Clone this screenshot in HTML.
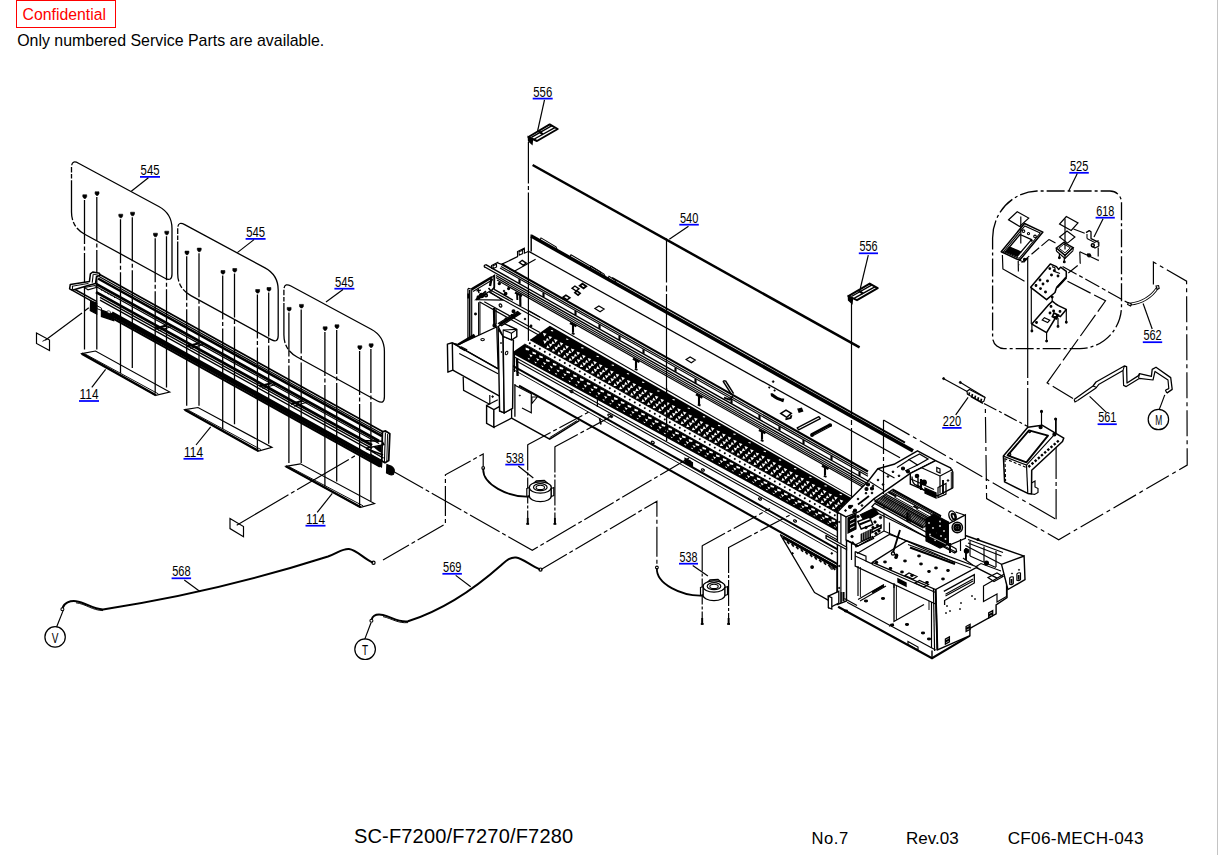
<!DOCTYPE html>
<html><head><meta charset="utf-8"><title>SC-F7200/F7270/F7280 CF06-MECH-043</title>
<style>
html,body{margin:0;padding:0;background:#fff;}
body{width:1218px;height:855px;position:relative;overflow:hidden;font-family:"Liberation Sans",sans-serif;}
.t{position:absolute;white-space:nowrap;color:#000;line-height:1;}
#conf{left:16px;top:0.4px;width:92px;height:25.6px;border:1.3px solid #f00;color:#f00;font-size:15.8px;line-height:28px;text-align:left;padding-left:5.6px;box-sizing:content-box;}
#edge{position:absolute;right:0;top:0;width:1px;height:855px;background:#c4c4c4;}
svg{position:absolute;left:0;top:0;}
svg text{font-family:"Liberation Sans",sans-serif;}
</style></head><body>
<div class="t" id="conf">Confidential</div>
<div class="t" style="left:17.2px;top:32.6px;font-size:15.93px;">Only numbered Service Parts are available.</div>
<div class="t" style="left:353.9px;top:826px;font-size:20px;letter-spacing:0.19px;">SC-F7200/F7270/F7280</div>
<div class="t" style="left:811.4px;top:831px;font-size:16.6px;letter-spacing:0.6px;">No.7</div>
<div class="t" style="left:906px;top:830px;font-size:17px;">Rev.03</div>
<div class="t" style="left:1007.7px;top:830px;font-size:17.2px;letter-spacing:0.25px;">CF06-MECH-043</div>
<div id="edge"></div>
<svg width="1218" height="855" viewBox="0 0 1218 855" fill="none" stroke="#000" stroke-width="1">
<path d="M78.5,163.2 Q71.5,159.4 71.5,167.4 L71.5,212.0 Q71.5,227.0 84.7,234.2 L165.0,278.2 Q172.0,282.0 172.0,274.0 L172.0,228.6 Q172.0,213.6 158.8,206.5 Z" stroke-width="1.3" fill="none" stroke-dasharray="9 1.6 5.5 1.6 4.5 1.6 40 2 5 2 1000"/>
<path d="M184.7,224.6 Q177.7,220.8 177.7,228.8 L177.7,273.4 Q177.7,288.4 190.9,295.6 L271.2,339.6 Q278.2,343.4 278.2,335.4 L278.2,290.0 Q278.2,275.0 265.0,267.9 Z" stroke-width="1.3" fill="none" stroke-dasharray="9 1.6 5.5 1.6 4.5 1.6 40 2 5 2 1000"/>
<path d="M290.9,286.0 Q283.9,282.2 283.9,290.2 L283.9,334.8 Q283.9,349.8 297.1,357.0 L377.4,401.0 Q384.4,404.8 384.4,396.8 L384.4,351.4 Q384.4,336.4 371.2,329.3 Z" stroke-width="1.3" fill="none" stroke-dasharray="9 1.6 5.5 1.6 4.5 1.6 40 2 5 2 1000"/>
<path d="M82.8,194.8 h3.9 v1.9 l-1.1,1.7 h-1.6 l-1.2,-1.7 Z" stroke-width="0.59" fill="#000"/>
<line x1="84.5" y1="199.9" x2="84.5" y2="349.5" stroke-width="1.27" stroke-dasharray="44 2.5 4 2.5 300"/>
<path d="M95.1,191.8 h3.9 v1.9 l-1.1,1.7 h-1.6 l-1.2,-1.7 Z" stroke-width="0.59" fill="#000"/>
<line x1="96.8" y1="196.9" x2="96.8" y2="349.5" stroke-width="1.27" stroke-dasharray="44 2.5 4 2.5 300"/>
<path d="M118.8,214.2 h3.9 v1.9 l-1.1,1.7 h-1.6 l-1.2,-1.7 Z" stroke-width="0.59" fill="#000"/>
<line x1="120.5" y1="219.3" x2="120.5" y2="373.0" stroke-width="1.27" stroke-dasharray="44 2.5 4 2.5 300"/>
<path d="M130.6,212.2 h3.9 v1.9 l-1.1,1.7 h-1.6 l-1.2,-1.7 Z" stroke-width="0.59" fill="#000"/>
<line x1="132.3" y1="217.3" x2="132.3" y2="368.0" stroke-width="1.27" stroke-dasharray="44 2.5 4 2.5 300"/>
<path d="M153.5,233.2 h3.9 v1.9 l-1.1,1.7 h-1.6 l-1.2,-1.7 Z" stroke-width="0.59" fill="#000"/>
<line x1="155.2" y1="238.3" x2="155.2" y2="393.5" stroke-width="1.27" stroke-dasharray="44 2.5 4 2.5 300"/>
<path d="M164.8,231.2 h3.9 v1.9 l-1.1,1.7 h-1.6 l-1.2,-1.7 Z" stroke-width="0.59" fill="#000"/>
<line x1="166.5" y1="236.3" x2="166.5" y2="387.5" stroke-width="1.27" stroke-dasharray="44 2.5 4 2.5 300"/>
<path d="M185.0,251.1 h3.9 v1.9 l-1.1,1.7 h-1.6 l-1.2,-1.7 Z" stroke-width="0.59" fill="#000"/>
<line x1="186.7" y1="256.2" x2="186.7" y2="405.8" stroke-width="1.27" stroke-dasharray="44 2.5 4 2.5 300"/>
<path d="M197.3,248.1 h3.9 v1.9 l-1.1,1.7 h-1.6 l-1.2,-1.7 Z" stroke-width="0.59" fill="#000"/>
<line x1="199.0" y1="253.2" x2="199.0" y2="405.8" stroke-width="1.27" stroke-dasharray="44 2.5 4 2.5 300"/>
<path d="M221.0,270.5 h3.9 v1.9 l-1.1,1.7 h-1.6 l-1.2,-1.7 Z" stroke-width="0.59" fill="#000"/>
<line x1="222.7" y1="275.6" x2="222.7" y2="429.3" stroke-width="1.27" stroke-dasharray="44 2.5 4 2.5 300"/>
<path d="M232.8,268.5 h3.9 v1.9 l-1.1,1.7 h-1.6 l-1.2,-1.7 Z" stroke-width="0.59" fill="#000"/>
<line x1="234.5" y1="273.6" x2="234.5" y2="424.3" stroke-width="1.27" stroke-dasharray="44 2.5 4 2.5 300"/>
<path d="M255.7,289.5 h3.9 v1.9 l-1.1,1.7 h-1.6 l-1.2,-1.7 Z" stroke-width="0.59" fill="#000"/>
<line x1="257.4" y1="294.6" x2="257.4" y2="449.8" stroke-width="1.27" stroke-dasharray="44 2.5 4 2.5 300"/>
<path d="M267.0,287.5 h3.9 v1.9 l-1.1,1.7 h-1.6 l-1.2,-1.7 Z" stroke-width="0.59" fill="#000"/>
<line x1="268.7" y1="292.6" x2="268.7" y2="443.8" stroke-width="1.27" stroke-dasharray="44 2.5 4 2.5 300"/>
<path d="M287.2,307.4 h3.9 v1.9 l-1.1,1.7 h-1.6 l-1.2,-1.7 Z" stroke-width="0.59" fill="#000"/>
<line x1="288.9" y1="312.5" x2="288.9" y2="463.1" stroke-width="1.27" stroke-dasharray="44 2.5 4 2.5 300"/>
<path d="M299.5,304.4 h3.9 v1.9 l-1.1,1.7 h-1.6 l-1.2,-1.7 Z" stroke-width="0.59" fill="#000"/>
<line x1="301.2" y1="309.5" x2="301.2" y2="463.1" stroke-width="1.27" stroke-dasharray="44 2.5 4 2.5 300"/>
<path d="M323.2,326.8 h3.9 v1.9 l-1.1,1.7 h-1.6 l-1.2,-1.7 Z" stroke-width="0.59" fill="#000"/>
<line x1="324.9" y1="331.9" x2="324.9" y2="486.6" stroke-width="1.27" stroke-dasharray="44 2.5 4 2.5 300"/>
<path d="M335.0,324.8 h3.9 v1.9 l-1.1,1.7 h-1.6 l-1.2,-1.7 Z" stroke-width="0.59" fill="#000"/>
<line x1="336.7" y1="329.9" x2="336.7" y2="481.6" stroke-width="1.27" stroke-dasharray="44 2.5 4 2.5 300"/>
<path d="M357.9,345.8 h3.9 v1.9 l-1.1,1.7 h-1.6 l-1.2,-1.7 Z" stroke-width="0.59" fill="#000"/>
<line x1="359.6" y1="350.9" x2="359.6" y2="507.1" stroke-width="1.27" stroke-dasharray="44 2.5 4 2.5 300"/>
<path d="M369.2,343.8 h3.9 v1.9 l-1.1,1.7 h-1.6 l-1.2,-1.7 Z" stroke-width="0.59" fill="#000"/>
<line x1="370.9" y1="348.9" x2="370.9" y2="501.1" stroke-width="1.27" stroke-dasharray="44 2.5 4 2.5 300"/>
<polygon points="81.7,353.6 95.5,351.0 169.7,392.0 155.9,395.3" stroke-width="1.18" fill="none"/>
<line x1="81.7" y1="353.6" x2="155.9" y2="395.3" stroke-width="2.38"/>
<line x1="84.7" y1="353.8" x2="158.4" y2="393.9" stroke-width="0.94"/>
<polygon points="184.8,409.7 198.0,407.5 272.0,447.4 258.5,451.0" stroke-width="1.18" fill="none"/>
<line x1="184.8" y1="409.7" x2="258.5" y2="451.0" stroke-width="2.38"/>
<line x1="187.8" y1="409.9" x2="261.0" y2="449.6" stroke-width="0.94"/>
<polygon points="285.8,466.3 300.4,463.8 374.5,503.5 360.7,507.3" stroke-width="1.18" fill="none"/>
<line x1="285.8" y1="466.3" x2="360.7" y2="507.3" stroke-width="2.38"/>
<line x1="288.8" y1="466.5" x2="363.2" y2="505.9" stroke-width="0.94"/>
<line x1="97.0" y1="273.1" x2="383.0" y2="431.8" stroke-width="1.72"/>
<line x1="99.0" y1="276.6" x2="383.0" y2="434.2" stroke-width="1.19"/>
<line x1="98.0" y1="278.5" x2="382.0" y2="436.1" stroke-width="2.54"/>
<line x1="96.0" y1="283.9" x2="379.0" y2="441.0" stroke-width="2.79"/>
<line x1="96.0" y1="286.4" x2="379.0" y2="443.5" stroke-width="1.19"/>
<line x1="96.0" y1="292.1" x2="372.0" y2="445.3" stroke-width="2.79"/>
<line x1="100.0" y1="297.3" x2="372.0" y2="448.3" stroke-width="1.32"/>
<line x1="100.0" y1="300.2" x2="376.0" y2="453.4" stroke-width="1.32"/>
<line x1="70.5" y1="287.0" x2="97.0" y2="301.7" stroke-width="1.45"/>
<line x1="72.0" y1="290.2" x2="97.0" y2="304.1" stroke-width="1.45"/>
<line x1="112.0" y1="312.6" x2="381.0" y2="461.9" stroke-width="2.79"/>
<line x1="112.0" y1="315.3" x2="381.0" y2="464.6" stroke-width="3.26"/>
<line x1="110.0" y1="316.9" x2="380.0" y2="466.7" stroke-width="2.11"/>
<polygon points="90.6,301.2 96.7,303.0 96.7,314.0 90.3,310.6" stroke-width="1.18" fill="#000"/>
<polygon points="101.5,310.2 113.6,314.6 113.6,320.6 101.5,316.4" stroke-width="1.42" fill="#000"/>
<polygon points="96.7,305.5 101.5,308.2 101.5,310.4 96.7,308.5" stroke-width="0.94" fill="none"/>
<ellipse cx="108.9" cy="312.0" rx="1.9" ry="1.1" stroke-width="0.59" fill="#fff" transform="rotate(22 108.9 312.0)"/>
<line x1="101.0" y1="289.6" x2="102.2" y2="290.9" stroke-width="0.94"/>
<line x1="104.2" y1="291.4" x2="105.4" y2="292.7" stroke-width="0.94"/>
<line x1="107.4" y1="293.2" x2="108.6" y2="294.5" stroke-width="0.94"/>
<line x1="110.6" y1="294.9" x2="111.8" y2="296.2" stroke-width="0.94"/>
<line x1="113.8" y1="296.7" x2="115.0" y2="298.0" stroke-width="0.94"/>
<line x1="155.3" y1="328.6" x2="167.0" y2="325.4" stroke-width="2.16"/>
<line x1="158.3" y1="330.8" x2="171.0" y2="326.8" stroke-width="1.06"/>
<line x1="187.3" y1="346.4" x2="199.0" y2="343.2" stroke-width="2.16"/>
<line x1="190.3" y1="348.6" x2="203.0" y2="344.6" stroke-width="1.06"/>
<line x1="259.5" y1="386.4" x2="271.2" y2="383.2" stroke-width="2.16"/>
<line x1="262.5" y1="388.6" x2="275.2" y2="384.6" stroke-width="1.06"/>
<line x1="291.0" y1="404.0" x2="302.7" y2="400.8" stroke-width="2.16"/>
<line x1="294.0" y1="406.2" x2="306.7" y2="402.2" stroke-width="1.06"/>
<polygon points="70.3,284.4 89.4,281.6 90.4,273.8 92.8,272.0 99.4,273.2 99.8,275.4 96.5,276.5 95.5,283.5 88.0,285.6 72.3,290.2 69.6,288.8" stroke-width="1.53" fill="#fff" stroke-linejoin="round"/>
<line x1="72.4" y1="285.8" x2="72.6" y2="289.8" stroke-width="1.06"/>
<line x1="72.5" y1="286.2" x2="88.5" y2="283.4" stroke-width="0.94"/>
<line x1="93.2" y1="274.2" x2="92.2" y2="282.8" stroke-width="1.06"/>
<line x1="93.2" y1="274.2" x2="98.5" y2="275.2" stroke-width="0.94"/>
<polygon points="84.5,287.6 95.0,285.5 97.0,287.2 88.0,289.8" stroke-width="1.06" fill="none"/>
<polygon points="382.4,431.8 385.5,430.9 389.8,433.8 388.7,460.6 385.0,462.8 381.8,461.0" stroke-width="1.77" fill="#fff" stroke-linejoin="round"/>
<line x1="385.4" y1="432.5" x2="384.4" y2="462.0" stroke-width="1.06"/>
<line x1="387.6" y1="434.0" x2="386.8" y2="461.0" stroke-width="0.94"/>
<polyline points="361.0,440.5 382.0,441.2 384.0,444.6 366.0,448.2" stroke-width="1.42" fill="none" stroke-linejoin="round"/>
<line x1="366.0" y1="448.5" x2="383.0" y2="455.0" stroke-width="1.77"/>
<line x1="371.0" y1="451.0" x2="383.5" y2="458.2" stroke-width="1.42"/>
<polygon points="375.0,447.5 381.0,446.0 381.0,452.0 378.5,450.5" stroke-width="1.18" fill="#000"/>
<polygon points="371.0,454.5 382.0,460.5 381.5,467.0 371.0,461.0" stroke-width="1.18" fill="#000"/>
<path d="M386.9,464.6 l4.6,1.6 q3,2 2.8,5 l-0.8,3 q-2,1.4 -4.4,0 l-2.6,-1.4 Z" stroke-width="1.18" fill="#000"/>
<polygon points="36.5,333.0 49.5,340.0 49.5,350.6 36.5,343.5" stroke-width="1.18" fill="none"/>
<line x1="45.3" y1="340.2" x2="82.0" y2="313.0" stroke-width="1.18"/>
<line x1="84.5" y1="311.0" x2="88.8" y2="307.8" stroke-width="1.18"/>
<line x1="42.5" y1="341.3" x2="45.8" y2="339.6" stroke-width="0.94"/>
<polygon points="230.0,518.6 243.5,526.6 243.5,536.7 230.0,528.6" stroke-width="1.18" fill="none"/>
<line x1="236.7" y1="525.2" x2="356.0" y2="455.2" stroke-width="1.18" stroke-dasharray="60 3 4 3"/>
<text x="140.6" y="175.0" font-size="14.8" textLength="18.9" lengthAdjust="spacingAndGlyphs" stroke="none" fill="#000">545</text>
<line x1="140.0" y1="176.9" x2="160.0" y2="176.9" stroke="#0000ff" stroke-width="1.75"/>
<line x1="148.4" y1="177.8" x2="131.3" y2="191.2" stroke-width="1.18"/>
<text x="246.2" y="237.0" font-size="14.8" textLength="18.9" lengthAdjust="spacingAndGlyphs" stroke="none" fill="#000">545</text>
<line x1="245.6" y1="238.9" x2="265.6" y2="238.9" stroke="#0000ff" stroke-width="1.75"/>
<line x1="254.0" y1="239.6" x2="237.3" y2="252.6" stroke-width="1.18"/>
<text x="335.0" y="286.8" font-size="14.8" textLength="18.9" lengthAdjust="spacingAndGlyphs" stroke="none" fill="#000">545</text>
<line x1="334.4" y1="288.7" x2="354.4" y2="288.7" stroke="#0000ff" stroke-width="1.75"/>
<line x1="343.0" y1="289.6" x2="326.0" y2="302.0" stroke-width="1.18"/>
<text x="79.6" y="399.1" font-size="14.8" textLength="18.9" lengthAdjust="spacingAndGlyphs" stroke="none" fill="#000">114</text>
<line x1="79.0" y1="401.0" x2="99.0" y2="401.0" stroke="#0000ff" stroke-width="1.75"/>
<line x1="91.8" y1="387.4" x2="105.6" y2="369.4" stroke-width="1.18"/>
<text x="184.1" y="456.9" font-size="14.8" textLength="18.9" lengthAdjust="spacingAndGlyphs" stroke="none" fill="#000">114</text>
<line x1="183.5" y1="458.8" x2="203.5" y2="458.8" stroke="#0000ff" stroke-width="1.75"/>
<line x1="196.0" y1="445.0" x2="210.7" y2="426.8" stroke-width="1.18"/>
<text x="306.1" y="523.8" font-size="14.8" textLength="18.9" lengthAdjust="spacingAndGlyphs" stroke="none" fill="#000">114</text>
<line x1="305.5" y1="525.7" x2="325.5" y2="525.7" stroke="#0000ff" stroke-width="1.75"/>
<line x1="317.2" y1="512.4" x2="332.3" y2="493.4" stroke-width="1.18"/>
<polyline points="393.5,471.5 532.3,550.3 689.0,458.0" stroke-width="1.18" fill="none" stroke-dasharray="34 3 4 3"/>
<polyline points="383.0,560.0 445.4,523.9 445.4,474.8 483.2,454.0 483.2,466.0" stroke-width="1.18" fill="none" stroke-dasharray="30 3 4 3"/>
<polyline points="541.0,569.5 656.9,501.2 656.9,566.0" stroke-width="1.18" fill="none" stroke-dasharray="30 3 4 3"/>
<path d="M62.6,608 C64,603 70,600.5 76,601.2 C86,602.5 92,609 103,609.4 Q215,592.5 328,556.5 C338,553 342,548.5 349,549 C357,550 364,559 373,562.6" stroke-width="2.01" fill="none"/>
<path d="M76,602.8 C86,604 92,610.3 103,610.6" stroke-width="0.94" fill="none"/>
<circle cx="62.4" cy="609.3" r="1.5" stroke-width="1.06" fill="none"/>
<circle cx="373.5" cy="562.8" r="1.6" stroke-width="1.18" fill="none"/>
<line x1="63.2" y1="610.4" x2="56.6" y2="627.0" stroke-width="1.18"/>
<circle cx="55.1" cy="636.9" r="10.2" stroke-width="1.24" fill="none"/>
<text x="51.8" y="643.3" font-size="14.8" textLength="6.7" lengthAdjust="spacingAndGlyphs" stroke="none" fill="#000">V</text>
<text x="172.2" y="576.4" font-size="14.8" textLength="18.4" lengthAdjust="spacingAndGlyphs" stroke="none" fill="#000">568</text>
<line x1="171.6" y1="578.3" x2="191.1" y2="578.3" stroke="#0000ff" stroke-width="1.75"/>
<line x1="184.3" y1="580.0" x2="200.3" y2="591.7" stroke-width="1.18"/>
<path d="M371.6,619.5 C373,615 378,614 383,615 C392,617 398,622.5 408,621.3 Q455,606 500.8,565.4 C506,561 510,557 516,557.6 C523,558.5 531,566 540,569.4" stroke-width="2.01" fill="none"/>
<path d="M383,616.6 C392,618.6 398,623.6 408,622.6" stroke-width="0.94" fill="none"/>
<circle cx="371.4" cy="620.7" r="1.5" stroke-width="1.06" fill="none"/>
<circle cx="540.5" cy="569.6" r="1.6" stroke-width="1.18" fill="none"/>
<line x1="371.0" y1="622.8" x2="364.7" y2="639.4" stroke-width="1.18"/>
<circle cx="365.1" cy="649.2" r="10.3" stroke-width="1.24" fill="none"/>
<text x="362" y="655.1" font-size="14.8" textLength="6.1" lengthAdjust="spacingAndGlyphs" stroke="none" fill="#000">T</text>
<text x="443.0" y="571.9" font-size="14.8" textLength="18.4" lengthAdjust="spacingAndGlyphs" stroke="none" fill="#000">569</text>
<line x1="442.4" y1="573.8" x2="461.9" y2="573.8" stroke="#0000ff" stroke-width="1.75"/>
<line x1="455.7" y1="575.4" x2="470.7" y2="586.7" stroke-width="1.18"/>
<line x1="527.7" y1="444.8" x2="589.8" y2="411.5" stroke-width="1.18" stroke-dasharray="26 3 4 3"/>
<line x1="554.9" y1="446.8" x2="612.0" y2="416.0" stroke-width="1.18" stroke-dasharray="26 3 4 3"/>
<line x1="702.2" y1="545.8" x2="770.0" y2="508.5" stroke-width="1.18" stroke-dasharray="26 3 4 3"/>
<line x1="728.6" y1="547.4" x2="790.0" y2="515.0" stroke-width="1.18" stroke-dasharray="26 3 4 3"/>
<line x1="527.7" y1="444.5" x2="527.7" y2="523.9" stroke-width="1.18" stroke-dasharray="26 2 3 2"/>
<line x1="554.9" y1="446.5" x2="554.9" y2="523.9" stroke-width="1.18" stroke-dasharray="26 2 3 2"/>
<line x1="527.7" y1="517.9" x2="527.7" y2="523.9" stroke-width="1.89"/>
<line x1="526.3" y1="523.9" x2="529.1" y2="523.9" stroke-width="1.89"/>
<line x1="554.9" y1="517.9" x2="554.9" y2="523.9" stroke-width="1.89"/>
<line x1="553.5" y1="523.9" x2="556.3" y2="523.9" stroke-width="1.89"/>
<path d="M483.2,468.5 C482.2,484.5 508.29999999999995,497.5 529.3,496.5" stroke-width="1.77" fill="none"/>
<circle cx="483.2" cy="468.0" r="1.4" stroke-width="1.06" fill="none"/>
<path d="M529.3,487.5 v8.5 a11,5.6 0 0 0 22,0 v-8.5" stroke-width="1.3" fill="#fff"/>
<path d="M529.3,487.5 L536.3,481.0 L544.3,480.5 L551.3,486.5 " stroke-width="1.3" fill="#fff"/>
<ellipse cx="540.3" cy="487.5" rx="11" ry="5.6" stroke-width="1.3" fill="#fff"/>
<ellipse cx="540.3" cy="487.2" rx="6.8" ry="3.5" stroke-width="1.18" fill="#fff"/>
<ellipse cx="540.3" cy="487.4" rx="4.2" ry="2.1" stroke-width="1.06" fill="#fff"/>
<polygon points="526.8,488.5 529.3,487.5 529.3,495.5 526.8,496.5" stroke-width="1.18" fill="#fff"/>
<polygon points="551.3,488.5 553.8,487.5 553.8,495.5 551.3,496.5" stroke-width="1.18" fill="#fff"/>
<text x="505.9" y="462.7" font-size="14.8" textLength="17.9" lengthAdjust="spacingAndGlyphs" stroke="none" fill="#000">538</text>
<line x1="505.3" y1="464.6" x2="524.3" y2="464.6" stroke="#0000ff" stroke-width="1.75"/>
<line x1="518.3" y1="466.0" x2="533.3" y2="478.0" stroke-width="1.18"/>
<line x1="702.2" y1="545.5" x2="702.2" y2="624.0" stroke-width="1.18" stroke-dasharray="26 2 3 2"/>
<line x1="728.6" y1="547.0" x2="728.6" y2="624.0" stroke-width="1.18" stroke-dasharray="26 2 3 2"/>
<line x1="702.2" y1="618.0" x2="702.2" y2="624.0" stroke-width="1.89"/>
<line x1="700.8" y1="624.0" x2="703.6" y2="624.0" stroke-width="1.89"/>
<line x1="728.6" y1="618.0" x2="728.6" y2="624.0" stroke-width="1.89"/>
<line x1="727.2" y1="624.0" x2="730.0" y2="624.0" stroke-width="1.89"/>
<path d="M656.9,568 C655.9,584 682,596.5 703,595.5" stroke-width="1.77" fill="none"/>
<circle cx="656.9" cy="567.5" r="1.4" stroke-width="1.06" fill="none"/>
<path d="M703,586.5 v8.5 a11,5.6 0 0 0 22,0 v-8.5" stroke-width="1.3" fill="#fff"/>
<path d="M703,586.5 L710,580.0 L718,579.5 L725,585.5 " stroke-width="1.3" fill="#fff"/>
<ellipse cx="714.0" cy="586.5" rx="11" ry="5.6" stroke-width="1.3" fill="#fff"/>
<ellipse cx="714.0" cy="586.2" rx="6.8" ry="3.5" stroke-width="1.18" fill="#fff"/>
<ellipse cx="714.0" cy="586.4" rx="4.2" ry="2.1" stroke-width="1.06" fill="#fff"/>
<polygon points="700.5,587.5 703.0,586.5 703.0,594.5 700.5,595.5" stroke-width="1.18" fill="#fff"/>
<polygon points="725.0,587.5 727.5,586.5 727.5,594.5 725.0,595.5" stroke-width="1.18" fill="#fff"/>
<text x="679.6" y="561.8" font-size="14.8" textLength="17.9" lengthAdjust="spacingAndGlyphs" stroke="none" fill="#000">538</text>
<line x1="679.0" y1="563.7" x2="698.0" y2="563.7" stroke="#0000ff" stroke-width="1.75"/>
<line x1="692.7" y1="565.4" x2="707.9" y2="576.0" stroke-width="1.18"/>
<line x1="532.6" y1="165.0" x2="859.6" y2="347.4" stroke-width="2.48"/>
<text x="679.9" y="222.8" font-size="14.8" textLength="18.4" lengthAdjust="spacingAndGlyphs" stroke="none" fill="#000">540</text>
<line x1="679.3" y1="224.7" x2="698.8" y2="224.7" stroke="#0000ff" stroke-width="1.75"/>
<line x1="688.5" y1="226.2" x2="669.3" y2="239.3" stroke-width="1.18"/>
<line x1="666.5" y1="238.5" x2="666.5" y2="388.5" stroke-width="1.18" stroke-dasharray="44 3 6 2.5 300"/>
<text x="533.3" y="96.7" font-size="14.8" textLength="18.9" lengthAdjust="spacingAndGlyphs" stroke="none" fill="#000">556</text>
<line x1="532.7" y1="98.6" x2="552.7" y2="98.6" stroke="#0000ff" stroke-width="1.75"/>
<line x1="544.5" y1="99.9" x2="537.6" y2="131.0" stroke-width="1.18"/>
<polygon points="528.4,137.0 549.7,124.4 557.7,129.0 537.0,141.0" stroke-width="2.01" fill="#fff" stroke-linejoin="round"/>
<line x1="531.4" y1="137.3" x2="552.0" y2="125.6" stroke-width="1.42"/>
<line x1="534.4" y1="139.0" x2="554.8" y2="127.6" stroke-width="1.42"/>
<line x1="538.9" y1="131.4" x2="542.9" y2="134.4" stroke-width="2.38"/>
<polygon points="528.4,137.0 528.6,141.0 532.0,144.0 532.4,140.0" stroke-width="1.42" fill="#000"/>
<line x1="528.4" y1="142.0" x2="528.4" y2="341.0" stroke-width="1.18" stroke-dasharray="41.5 2.5 4 2.5 300"/>
<text x="859.4" y="251.4" font-size="14.8" textLength="18.1" lengthAdjust="spacingAndGlyphs" stroke="none" fill="#000">556</text>
<line x1="858.8" y1="253.3" x2="878.0" y2="253.3" stroke="#0000ff" stroke-width="1.75"/>
<line x1="868.3" y1="255.2" x2="860.4" y2="288.0" stroke-width="1.18"/>
<polygon points="848.4,296.2 869.7,283.6 877.7,288.2 857.0,300.2" stroke-width="2.01" fill="#fff" stroke-linejoin="round"/>
<line x1="851.4" y1="296.5" x2="872.0" y2="284.8" stroke-width="1.42"/>
<line x1="854.4" y1="298.2" x2="874.8" y2="286.8" stroke-width="1.42"/>
<line x1="858.9" y1="290.6" x2="862.9" y2="293.6" stroke-width="2.38"/>
<polygon points="848.4,296.2 848.6,300.2 852.0,303.2 852.4,299.2" stroke-width="1.42" fill="#000"/>
<line x1="851.5" y1="302.0" x2="851.5" y2="560.0" stroke-width="1.18" stroke-dasharray="115 3 5 3 300"/>
<line x1="531.2" y1="236.0" x2="913.0" y2="450.9" stroke-width="3.56"/>
<line x1="612.0" y1="277.7" x2="905.0" y2="442.6" stroke-width="1.89"/>
<line x1="529.2" y1="251.6" x2="900.0" y2="457.8" stroke-width="1.24"/>
<line x1="531.2" y1="234.6" x2="531.2" y2="251.5" stroke-width="1.42"/>
<polyline points="540.0,240.1 541.0,237.9 556.0,246.9 557.0,249.1" stroke-width="1.06" fill="none"/>
<polyline points="570.0,257.0 571.0,254.8 600.0,271.7 601.0,273.9" stroke-width="1.06" fill="none"/>
<polyline points="590.0,268.3 591.0,266.1 604.0,274.0 605.0,276.2" stroke-width="1.06" fill="none"/>
<polyline points="608.0,278.4 609.0,276.2 615.0,280.1 616.0,282.3" stroke-width="1.06" fill="none"/>
<polygon points="594.9,308.5 598.9,305.9 604.1,309.1 600.1,311.7" stroke-width="1.18" fill="none"/>
<polygon points="686.1,359.5 690.1,356.9 695.3,360.1 691.3,362.7" stroke-width="1.18" fill="none"/>
<polygon points="572.0,288.2 574.9,286.0 579.0,288.8 576.1,291.0" stroke-width="1.42" fill="none"/>
<polygon points="579.8,285.7 582.4,283.7 586.2,286.3 583.6,288.3" stroke-width="1.89" fill="none"/>
<polygon points="574.9,292.7 576.9,290.9 580.1,293.3 578.1,295.1" stroke-width="1.65" fill="none"/>
<polygon points="563.1,297.2 565.9,295.2 569.9,297.8 567.1,299.8" stroke-width="1.53" fill="none"/>
<line x1="501.5" y1="264.0" x2="868.0" y2="471.5" stroke-width="2.12"/>
<line x1="501.0" y1="266.5" x2="868.0" y2="474.2" stroke-width="1.18"/>
<line x1="500.0" y1="267.9" x2="868.0" y2="476.2" stroke-width="1.18"/>
<line x1="485.8" y1="264.7" x2="868.0" y2="481.0" stroke-width="1.42"/>
<line x1="484.8" y1="267.0" x2="868.0" y2="483.9" stroke-width="1.42"/>
<line x1="496.0" y1="275.6" x2="868.0" y2="486.2" stroke-width="1.18"/>
<line x1="496.0" y1="277.6" x2="868.0" y2="488.2" stroke-width="1.18"/>
<line x1="497.0" y1="280.0" x2="868.0" y2="490.0" stroke-width="1.18"/>
<line x1="519.5" y1="279.1" x2="519.5" y2="283.5" stroke-width="2.16"/>
<line x1="543.5" y1="292.7" x2="543.5" y2="297.1" stroke-width="2.16"/>
<line x1="575.5" y1="310.8" x2="575.5" y2="315.2" stroke-width="2.16"/>
<line x1="599.5" y1="324.4" x2="599.5" y2="328.8" stroke-width="2.16"/>
<line x1="619.5" y1="335.7" x2="619.5" y2="340.1" stroke-width="2.16"/>
<line x1="643.5" y1="349.3" x2="643.5" y2="353.7" stroke-width="2.16"/>
<line x1="675.5" y1="367.4" x2="675.5" y2="371.8" stroke-width="2.16"/>
<line x1="695.5" y1="378.8" x2="695.5" y2="383.2" stroke-width="2.16"/>
<line x1="731.5" y1="399.1" x2="731.5" y2="403.5" stroke-width="2.16"/>
<line x1="759.5" y1="415.0" x2="759.5" y2="419.4" stroke-width="2.16"/>
<line x1="779.5" y1="426.3" x2="779.5" y2="430.7" stroke-width="2.16"/>
<line x1="803.5" y1="439.9" x2="803.5" y2="444.3" stroke-width="2.16"/>
<line x1="831.5" y1="455.7" x2="831.5" y2="460.1" stroke-width="2.16"/>
<line x1="859.5" y1="471.6" x2="859.5" y2="476.0" stroke-width="2.16"/>
<line x1="570.0" y1="322.9" x2="576.5" y2="326.3" stroke-width="2.38"/>
<line x1="573.0" y1="324.7" x2="573.0" y2="332.7" stroke-width="2.12"/>
<line x1="571.8" y1="333.2" x2="574.5" y2="334.2" stroke-width="1.89"/>
<line x1="633.0" y1="358.6" x2="639.5" y2="362.0" stroke-width="2.38"/>
<line x1="636.0" y1="360.4" x2="636.0" y2="368.4" stroke-width="2.12"/>
<line x1="634.8" y1="368.9" x2="637.5" y2="369.9" stroke-width="1.89"/>
<line x1="696.0" y1="394.2" x2="702.5" y2="397.6" stroke-width="2.38"/>
<line x1="699.0" y1="396.0" x2="699.0" y2="404.0" stroke-width="2.12"/>
<line x1="697.8" y1="404.5" x2="700.5" y2="405.5" stroke-width="1.89"/>
<line x1="759.0" y1="429.9" x2="765.5" y2="433.3" stroke-width="2.38"/>
<line x1="762.0" y1="431.7" x2="762.0" y2="439.7" stroke-width="2.12"/>
<line x1="760.8" y1="440.2" x2="763.5" y2="441.2" stroke-width="1.89"/>
<line x1="822.0" y1="465.6" x2="828.5" y2="469.0" stroke-width="2.38"/>
<line x1="825.0" y1="467.4" x2="825.0" y2="475.4" stroke-width="2.12"/>
<line x1="823.8" y1="475.9" x2="826.5" y2="476.9" stroke-width="1.89"/>
<line x1="529.0" y1="310.7" x2="860.0" y2="501.1" stroke-width="1.06"/>
<polygon points="549.8,325.7 858.0,501.8 858.0,524.6 530.2,339.7" fill="#000" stroke="none"/>
<polygon points="524.4,343.9 858.0,532.1 858.0,541.2 512.5,352.3" fill="#000" stroke="none"/>
<path d="M550.9,329.9 l2.2,0.4 l0,1.1 l-2.2,-0.4 Z M566.1,338.5 l2.2,0.4 l0,1.1 l-2.2,-0.4 Z M581.3,347.1 l2.2,0.4 l0,1.1 l-2.2,-0.4 Z M596.5,355.7 l2.2,0.4 l0,1.1 l-2.2,-0.4 Z M611.7,364.4 l2.2,0.4 l0,1.1 l-2.2,-0.4 Z M626.9,373.0 l2.2,0.4 l0,1.1 l-2.2,-0.4 Z M642.1,381.6 l2.2,0.4 l0,1.1 l-2.2,-0.4 Z M657.3,390.3 l2.2,0.4 l0,1.1 l-2.2,-0.4 Z M672.5,398.9 l2.2,0.4 l0,1.1 l-2.2,-0.4 Z M687.7,407.5 l2.2,0.4 l0,1.1 l-2.2,-0.4 Z M702.9,416.1 l2.2,0.4 l0,1.1 l-2.2,-0.4 Z M718.1,424.8 l2.2,0.4 l0,1.1 l-2.2,-0.4 Z M733.3,433.4 l2.2,0.4 l0,1.1 l-2.2,-0.4 Z M748.5,442.0 l2.2,0.4 l0,1.1 l-2.2,-0.4 Z M763.7,450.7 l2.2,0.4 l0,1.1 l-2.2,-0.4 Z M778.9,459.3 l2.2,0.4 l0,1.1 l-2.2,-0.4 Z M794.1,467.9 l2.2,0.4 l0,1.1 l-2.2,-0.4 Z M809.3,476.6 l2.2,0.4 l0,1.1 l-2.2,-0.4 Z M824.5,485.2 l2.2,0.4 l0,1.1 l-2.2,-0.4 Z M839.7,493.8 l2.2,0.4 l0,1.1 l-2.2,-0.4 Z M542.9,332.7 l3.6,1.1 l-2.3,2.6 Z M545.9,340.7 l1.1,-3.0 l2.3,2.8 Z M543.3,340.2 l3.6,1.1 l-2.3,2.6 Z M546.3,348.2 l1.1,-3.0 l2.3,2.8 Z M548.5,335.9 l3.6,1.1 l-2.3,2.6 Z M551.5,343.9 l1.1,-3.0 l2.3,2.8 Z M548.9,343.4 l3.6,1.1 l-2.3,2.6 Z M551.9,351.4 l1.1,-3.0 l2.3,2.8 Z M554.1,339.0 l3.6,1.1 l-2.3,2.6 Z M557.1,347.0 l1.1,-3.0 l2.3,2.8 Z M554.5,346.5 l3.6,1.1 l-2.3,2.6 Z M557.5,354.5 l1.1,-3.0 l2.3,2.8 Z M559.7,342.2 l3.6,1.1 l-2.3,2.6 Z M562.7,350.2 l1.1,-3.0 l2.3,2.8 Z M560.1,349.7 l3.6,1.1 l-2.3,2.6 Z M563.1,357.7 l1.1,-3.0 l2.3,2.8 Z M565.3,345.3 l3.6,1.1 l-2.3,2.6 Z M568.3,353.3 l1.1,-3.0 l2.3,2.8 Z M565.7,352.8 l3.6,1.1 l-2.3,2.6 Z M568.7,360.8 l1.1,-3.0 l2.3,2.8 Z M570.9,348.5 l3.6,1.1 l-2.3,2.6 Z M573.9,356.5 l1.1,-3.0 l2.3,2.8 Z M571.3,356.0 l3.6,1.1 l-2.3,2.6 Z M574.3,364.0 l1.1,-3.0 l2.3,2.8 Z M576.5,351.6 l3.6,1.1 l-2.3,2.6 Z M579.5,359.6 l1.1,-3.0 l2.3,2.8 Z M576.9,359.1 l3.6,1.1 l-2.3,2.6 Z M579.9,367.1 l1.1,-3.0 l2.3,2.8 Z M582.1,354.8 l3.6,1.1 l-2.3,2.6 Z M585.1,362.8 l1.1,-3.0 l2.3,2.8 Z M582.5,362.3 l3.6,1.1 l-2.3,2.6 Z M585.5,370.3 l1.1,-3.0 l2.3,2.8 Z M587.7,357.9 l3.6,1.1 l-2.3,2.6 Z M590.7,365.9 l1.1,-3.0 l2.3,2.8 Z M588.1,365.4 l3.6,1.1 l-2.3,2.6 Z M591.1,373.5 l1.1,-3.0 l2.3,2.8 Z M593.3,361.1 l3.6,1.1 l-2.3,2.6 Z M596.3,369.1 l1.1,-3.0 l2.3,2.8 Z M593.7,368.6 l3.6,1.1 l-2.3,2.6 Z M596.7,376.6 l1.1,-3.0 l2.3,2.8 Z M598.9,364.2 l3.6,1.1 l-2.3,2.6 Z M601.9,372.2 l1.1,-3.0 l2.3,2.8 Z M599.3,371.7 l3.6,1.1 l-2.3,2.6 Z M602.3,379.8 l1.1,-3.0 l2.3,2.8 Z M604.5,367.4 l3.6,1.1 l-2.3,2.6 Z M607.5,375.4 l1.1,-3.0 l2.3,2.8 Z M604.9,374.9 l3.6,1.1 l-2.3,2.6 Z M607.9,382.9 l1.1,-3.0 l2.3,2.8 Z M610.1,370.5 l3.6,1.1 l-2.3,2.6 Z M613.1,378.5 l1.1,-3.0 l2.3,2.8 Z M610.5,378.1 l3.6,1.1 l-2.3,2.6 Z M613.5,386.1 l1.1,-3.0 l2.3,2.8 Z M615.7,373.7 l3.6,1.1 l-2.3,2.6 Z M618.7,381.7 l1.1,-3.0 l2.3,2.8 Z M616.1,381.2 l3.6,1.1 l-2.3,2.6 Z M619.1,389.2 l1.1,-3.0 l2.3,2.8 Z M621.3,376.8 l3.6,1.1 l-2.3,2.6 Z M624.3,384.8 l1.1,-3.0 l2.3,2.8 Z M621.7,384.4 l3.6,1.1 l-2.3,2.6 Z M624.7,392.4 l1.1,-3.0 l2.3,2.8 Z M626.9,380.0 l3.6,1.1 l-2.3,2.6 Z M629.9,388.0 l1.1,-3.0 l2.3,2.8 Z M627.3,387.5 l3.6,1.1 l-2.3,2.6 Z M630.3,395.6 l1.1,-3.0 l2.3,2.8 Z M632.5,383.1 l3.6,1.1 l-2.3,2.6 Z M635.5,391.1 l1.1,-3.0 l2.3,2.8 Z M632.9,390.7 l3.6,1.1 l-2.3,2.6 Z M635.9,398.7 l1.1,-3.0 l2.3,2.8 Z M638.1,386.2 l3.6,1.1 l-2.3,2.6 Z M641.1,394.3 l1.1,-3.0 l2.3,2.8 Z M638.5,393.8 l3.6,1.1 l-2.3,2.6 Z M641.5,401.9 l1.1,-3.0 l2.3,2.8 Z M643.7,389.4 l3.6,1.1 l-2.3,2.6 Z M646.7,397.4 l1.1,-3.0 l2.3,2.8 Z M644.1,397.0 l3.6,1.1 l-2.3,2.6 Z M647.1,405.0 l1.1,-3.0 l2.3,2.8 Z M649.3,392.5 l3.6,1.1 l-2.3,2.6 Z M652.3,400.6 l1.1,-3.0 l2.3,2.8 Z M649.7,400.1 l3.6,1.1 l-2.3,2.6 Z M652.7,408.2 l1.1,-3.0 l2.3,2.8 Z M654.9,395.7 l3.6,1.1 l-2.3,2.6 Z M657.9,403.7 l1.1,-3.0 l2.3,2.8 Z M655.3,403.3 l3.6,1.1 l-2.3,2.6 Z M658.3,411.3 l1.1,-3.0 l2.3,2.8 Z M660.5,398.8 l3.6,1.1 l-2.3,2.6 Z M663.5,406.9 l1.1,-3.0 l2.3,2.8 Z M660.9,406.4 l3.6,1.1 l-2.3,2.6 Z M663.9,414.5 l1.1,-3.0 l2.3,2.8 Z M666.1,402.0 l3.6,1.1 l-2.3,2.6 Z M669.1,410.0 l1.1,-3.0 l2.3,2.8 Z M666.5,409.6 l3.6,1.1 l-2.3,2.6 Z M669.5,417.7 l1.1,-3.0 l2.3,2.8 Z M671.7,405.1 l3.6,1.1 l-2.3,2.6 Z M674.7,413.2 l1.1,-3.0 l2.3,2.8 Z M672.1,412.7 l3.6,1.1 l-2.3,2.6 Z M675.1,420.8 l1.1,-3.0 l2.3,2.8 Z M677.3,408.3 l3.6,1.1 l-2.3,2.6 Z M680.3,416.3 l1.1,-3.0 l2.3,2.8 Z M677.7,415.9 l3.6,1.1 l-2.3,2.6 Z M680.7,424.0 l1.1,-3.0 l2.3,2.8 Z M682.9,411.4 l3.6,1.1 l-2.3,2.6 Z M685.9,419.5 l1.1,-3.0 l2.3,2.8 Z M683.3,419.1 l3.6,1.1 l-2.3,2.6 Z M686.3,427.1 l1.1,-3.0 l2.3,2.8 Z M688.5,414.6 l3.6,1.1 l-2.3,2.6 Z M691.5,422.6 l1.1,-3.0 l2.3,2.8 Z M688.9,422.2 l3.6,1.1 l-2.3,2.6 Z M691.9,430.3 l1.1,-3.0 l2.3,2.8 Z M694.1,417.7 l3.6,1.1 l-2.3,2.6 Z M697.1,425.8 l1.1,-3.0 l2.3,2.8 Z M694.5,425.4 l3.6,1.1 l-2.3,2.6 Z M697.5,433.4 l1.1,-3.0 l2.3,2.8 Z M699.7,420.9 l3.6,1.1 l-2.3,2.6 Z M702.7,428.9 l1.1,-3.0 l2.3,2.8 Z M700.1,428.5 l3.6,1.1 l-2.3,2.6 Z M703.1,436.6 l1.1,-3.0 l2.3,2.8 Z M705.3,424.0 l3.6,1.1 l-2.3,2.6 Z M708.3,432.1 l1.1,-3.0 l2.3,2.8 Z M705.7,431.7 l3.6,1.1 l-2.3,2.6 Z M708.7,439.7 l1.1,-3.0 l2.3,2.8 Z M710.9,427.2 l3.6,1.1 l-2.3,2.6 Z M713.9,435.3 l1.1,-3.0 l2.3,2.8 Z M711.3,434.8 l3.6,1.1 l-2.3,2.6 Z M714.3,442.9 l1.1,-3.0 l2.3,2.8 Z M716.5,430.3 l3.6,1.1 l-2.3,2.6 Z M719.5,438.4 l1.1,-3.0 l2.3,2.8 Z M716.9,438.0 l3.6,1.1 l-2.3,2.6 Z M719.9,446.1 l1.1,-3.0 l2.3,2.8 Z M722.1,433.5 l3.6,1.1 l-2.3,2.6 Z M725.1,441.6 l1.1,-3.0 l2.3,2.8 Z M722.5,441.1 l3.6,1.1 l-2.3,2.6 Z M725.5,449.2 l1.1,-3.0 l2.3,2.8 Z M727.7,436.6 l3.6,1.1 l-2.3,2.6 Z M730.7,444.7 l1.1,-3.0 l2.3,2.8 Z M728.1,444.3 l3.6,1.1 l-2.3,2.6 Z M731.1,452.4 l1.1,-3.0 l2.3,2.8 Z M733.3,439.8 l3.6,1.1 l-2.3,2.6 Z M736.3,447.9 l1.1,-3.0 l2.3,2.8 Z M733.7,447.4 l3.6,1.1 l-2.3,2.6 Z M736.7,455.5 l1.1,-3.0 l2.3,2.8 Z M738.9,442.9 l3.6,1.1 l-2.3,2.6 Z M741.9,451.0 l1.1,-3.0 l2.3,2.8 Z M739.3,450.6 l3.6,1.1 l-2.3,2.6 Z M742.3,458.7 l1.1,-3.0 l2.3,2.8 Z M744.5,446.1 l3.6,1.1 l-2.3,2.6 Z M747.5,454.2 l1.1,-3.0 l2.3,2.8 Z M744.9,453.8 l3.6,1.1 l-2.3,2.6 Z M747.9,461.8 l1.1,-3.0 l2.3,2.8 Z M750.1,449.2 l3.6,1.1 l-2.3,2.6 Z M753.1,457.3 l1.1,-3.0 l2.3,2.8 Z M750.5,456.9 l3.6,1.1 l-2.3,2.6 Z M753.5,465.0 l1.1,-3.0 l2.3,2.8 Z M755.7,452.4 l3.6,1.1 l-2.3,2.6 Z M758.7,460.5 l1.1,-3.0 l2.3,2.8 Z M756.1,460.1 l3.6,1.1 l-2.3,2.6 Z M759.1,468.2 l1.1,-3.0 l2.3,2.8 Z M761.3,455.5 l3.6,1.1 l-2.3,2.6 Z M764.3,463.6 l1.1,-3.0 l2.3,2.8 Z M761.7,463.2 l3.6,1.1 l-2.3,2.6 Z M764.7,471.3 l1.1,-3.0 l2.3,2.8 Z M766.9,458.7 l3.6,1.1 l-2.3,2.6 Z M769.9,466.8 l1.1,-3.0 l2.3,2.8 Z M767.3,466.4 l3.6,1.1 l-2.3,2.6 Z M770.3,474.5 l1.1,-3.0 l2.3,2.8 Z M772.5,461.8 l3.6,1.1 l-2.3,2.6 Z M775.5,469.9 l1.1,-3.0 l2.3,2.8 Z M772.9,469.5 l3.6,1.1 l-2.3,2.6 Z M775.9,477.6 l1.1,-3.0 l2.3,2.8 Z M778.1,465.0 l3.6,1.1 l-2.3,2.6 Z M781.1,473.1 l1.1,-3.0 l2.3,2.8 Z M778.5,472.7 l3.6,1.1 l-2.3,2.6 Z M781.5,480.8 l1.1,-3.0 l2.3,2.8 Z M783.7,468.1 l3.6,1.1 l-2.3,2.6 Z M786.7,476.2 l1.1,-3.0 l2.3,2.8 Z M784.1,475.8 l3.6,1.1 l-2.3,2.6 Z M787.1,483.9 l1.1,-3.0 l2.3,2.8 Z M789.3,471.3 l3.6,1.1 l-2.3,2.6 Z M792.3,479.4 l1.1,-3.0 l2.3,2.8 Z M789.7,479.0 l3.6,1.1 l-2.3,2.6 Z M792.7,487.1 l1.1,-3.0 l2.3,2.8 Z M794.9,474.4 l3.6,1.1 l-2.3,2.6 Z M797.9,482.5 l1.1,-3.0 l2.3,2.8 Z M795.3,482.1 l3.6,1.1 l-2.3,2.6 Z M798.3,490.3 l1.1,-3.0 l2.3,2.8 Z M800.5,477.5 l3.6,1.1 l-2.3,2.6 Z M803.5,485.7 l1.1,-3.0 l2.3,2.8 Z M800.9,485.3 l3.6,1.1 l-2.3,2.6 Z M803.9,493.4 l1.1,-3.0 l2.3,2.8 Z M806.1,480.7 l3.6,1.1 l-2.3,2.6 Z M809.1,488.8 l1.1,-3.0 l2.3,2.8 Z M806.5,488.4 l3.6,1.1 l-2.3,2.6 Z M809.5,496.6 l1.1,-3.0 l2.3,2.8 Z M811.7,483.8 l3.6,1.1 l-2.3,2.6 Z M814.7,492.0 l1.1,-3.0 l2.3,2.8 Z M812.1,491.6 l3.6,1.1 l-2.3,2.6 Z M815.1,499.7 l1.1,-3.0 l2.3,2.8 Z M817.3,487.0 l3.6,1.1 l-2.3,2.6 Z M820.3,495.1 l1.1,-3.0 l2.3,2.8 Z M817.7,494.8 l3.6,1.1 l-2.3,2.6 Z M820.7,502.9 l1.1,-3.0 l2.3,2.8 Z M822.9,490.1 l3.6,1.1 l-2.3,2.6 Z M825.9,498.3 l1.1,-3.0 l2.3,2.8 Z M823.3,497.9 l3.6,1.1 l-2.3,2.6 Z M826.3,506.0 l1.1,-3.0 l2.3,2.8 Z M828.5,493.3 l3.6,1.1 l-2.3,2.6 Z M831.5,501.4 l1.1,-3.0 l2.3,2.8 Z M828.9,501.1 l3.6,1.1 l-2.3,2.6 Z M831.9,509.2 l1.1,-3.0 l2.3,2.8 Z M834.1,496.4 l3.6,1.1 l-2.3,2.6 Z M837.1,504.6 l1.1,-3.0 l2.3,2.8 Z M834.5,504.2 l3.6,1.1 l-2.3,2.6 Z M837.5,512.4 l1.1,-3.0 l2.3,2.8 Z M839.7,499.6 l3.6,1.1 l-2.3,2.6 Z M842.7,507.7 l1.1,-3.0 l2.3,2.8 Z M840.1,507.4 l3.6,1.1 l-2.3,2.6 Z M843.1,515.5 l1.1,-3.0 l2.3,2.8 Z M845.3,502.7 l3.6,1.1 l-2.3,2.6 Z M848.3,510.9 l1.1,-3.0 l2.3,2.8 Z M845.7,510.5 l3.6,1.1 l-2.3,2.6 Z M848.7,518.7 l1.1,-3.0 l2.3,2.8 Z M850.9,505.9 l3.6,1.1 l-2.3,2.6 Z M851.3,513.7 l3.6,1.1 l-2.3,2.6 Z M525.6,347.6 l3.8,1.5 l-0.4,1.5 l-3.2,-0.7 Z M529.3,354.3 l3.2,1.3 l-1.7,1.6 Z M527.6,357.8 l2.4,1.0 l-1.2,1.1 Z M532.4,351.4 l3.8,1.5 l-0.4,1.5 l-3.2,-0.7 Z M536.1,358.1 l3.2,1.3 l-1.7,1.6 Z M534.4,361.6 l2.4,1.0 l-1.2,1.1 Z M539.2,355.2 l3.8,1.5 l-0.4,1.5 l-3.2,-0.7 Z M542.9,361.9 l3.2,1.3 l-1.7,1.6 Z M541.2,365.3 l2.4,1.0 l-1.2,1.1 Z M546.0,359.0 l3.8,1.5 l-0.4,1.5 l-3.2,-0.7 Z M549.7,365.6 l3.2,1.3 l-1.7,1.6 Z M548.0,369.1 l2.4,1.0 l-1.2,1.1 Z M552.8,362.8 l3.8,1.5 l-0.4,1.5 l-3.2,-0.7 Z M556.5,369.4 l3.2,1.3 l-1.7,1.6 Z M554.8,372.8 l2.4,1.0 l-1.2,1.1 Z M559.6,366.6 l3.8,1.5 l-0.4,1.5 l-3.2,-0.7 Z M563.3,373.2 l3.2,1.3 l-1.7,1.6 Z M561.6,376.5 l2.4,1.0 l-1.2,1.1 Z M566.4,370.4 l3.8,1.5 l-0.4,1.5 l-3.2,-0.7 Z M570.1,376.9 l3.2,1.3 l-1.7,1.6 Z M568.4,380.3 l2.4,1.0 l-1.2,1.1 Z M573.2,374.2 l3.8,1.5 l-0.4,1.5 l-3.2,-0.7 Z M576.9,380.7 l3.2,1.3 l-1.7,1.6 Z M575.2,384.0 l2.4,1.0 l-1.2,1.1 Z M580.0,378.1 l3.8,1.5 l-0.4,1.5 l-3.2,-0.7 Z M583.7,384.5 l3.2,1.3 l-1.7,1.6 Z M582.0,387.7 l2.4,1.0 l-1.2,1.1 Z M586.8,381.9 l3.8,1.5 l-0.4,1.5 l-3.2,-0.7 Z M590.5,388.3 l3.2,1.3 l-1.7,1.6 Z M588.8,391.5 l2.4,1.0 l-1.2,1.1 Z M593.6,385.7 l3.8,1.5 l-0.4,1.5 l-3.2,-0.7 Z M597.3,392.0 l3.2,1.3 l-1.7,1.6 Z M595.6,395.2 l2.4,1.0 l-1.2,1.1 Z M600.4,389.5 l3.8,1.5 l-0.4,1.5 l-3.2,-0.7 Z M604.1,395.8 l3.2,1.3 l-1.7,1.6 Z M602.4,399.0 l2.4,1.0 l-1.2,1.1 Z M607.2,393.3 l3.8,1.5 l-0.4,1.5 l-3.2,-0.7 Z M610.9,399.6 l3.2,1.3 l-1.7,1.6 Z M609.2,402.7 l2.4,1.0 l-1.2,1.1 Z M614.0,397.1 l3.8,1.5 l-0.4,1.5 l-3.2,-0.7 Z M617.7,403.4 l3.2,1.3 l-1.7,1.6 Z M616.0,406.4 l2.4,1.0 l-1.2,1.1 Z M620.8,400.9 l3.8,1.5 l-0.4,1.5 l-3.2,-0.7 Z M624.5,407.1 l3.2,1.3 l-1.7,1.6 Z M622.8,410.2 l2.4,1.0 l-1.2,1.1 Z M627.6,404.7 l3.8,1.5 l-0.4,1.5 l-3.2,-0.7 Z M631.3,410.9 l3.2,1.3 l-1.7,1.6 Z M629.6,413.9 l2.4,1.0 l-1.2,1.1 Z M634.4,408.6 l3.8,1.5 l-0.4,1.5 l-3.2,-0.7 Z M638.1,414.7 l3.2,1.3 l-1.7,1.6 Z M636.4,417.7 l2.4,1.0 l-1.2,1.1 Z M641.2,412.4 l3.8,1.5 l-0.4,1.5 l-3.2,-0.7 Z M644.9,418.5 l3.2,1.3 l-1.7,1.6 Z M643.2,421.4 l2.4,1.0 l-1.2,1.1 Z M648.0,416.2 l3.8,1.5 l-0.4,1.5 l-3.2,-0.7 Z M651.7,422.2 l3.2,1.3 l-1.7,1.6 Z M650.0,425.1 l2.4,1.0 l-1.2,1.1 Z M654.8,420.0 l3.8,1.5 l-0.4,1.5 l-3.2,-0.7 Z M658.5,426.0 l3.2,1.3 l-1.7,1.6 Z M656.8,428.9 l2.4,1.0 l-1.2,1.1 Z M661.6,423.8 l3.8,1.5 l-0.4,1.5 l-3.2,-0.7 Z M665.3,429.8 l3.2,1.3 l-1.7,1.6 Z M663.6,432.6 l2.4,1.0 l-1.2,1.1 Z M668.4,427.6 l3.8,1.5 l-0.4,1.5 l-3.2,-0.7 Z M672.1,433.6 l3.2,1.3 l-1.7,1.6 Z M670.4,436.4 l2.4,1.0 l-1.2,1.1 Z M675.2,431.4 l3.8,1.5 l-0.4,1.5 l-3.2,-0.7 Z M678.9,437.3 l3.2,1.3 l-1.7,1.6 Z M677.2,440.1 l2.4,1.0 l-1.2,1.1 Z M682.0,435.2 l3.8,1.5 l-0.4,1.5 l-3.2,-0.7 Z M685.7,441.1 l3.2,1.3 l-1.7,1.6 Z M684.0,443.8 l2.4,1.0 l-1.2,1.1 Z M688.8,439.1 l3.8,1.5 l-0.4,1.5 l-3.2,-0.7 Z M692.5,444.9 l3.2,1.3 l-1.7,1.6 Z M690.8,447.6 l2.4,1.0 l-1.2,1.1 Z M695.6,442.9 l3.8,1.5 l-0.4,1.5 l-3.2,-0.7 Z M699.3,448.7 l3.2,1.3 l-1.7,1.6 Z M697.6,451.3 l2.4,1.0 l-1.2,1.1 Z M702.4,446.7 l3.8,1.5 l-0.4,1.5 l-3.2,-0.7 Z M706.1,452.4 l3.2,1.3 l-1.7,1.6 Z M704.4,455.1 l2.4,1.0 l-1.2,1.1 Z M709.2,450.5 l3.8,1.5 l-0.4,1.5 l-3.2,-0.7 Z M712.9,456.2 l3.2,1.3 l-1.7,1.6 Z M711.2,458.8 l2.4,1.0 l-1.2,1.1 Z M716.0,454.3 l3.8,1.5 l-0.4,1.5 l-3.2,-0.7 Z M719.7,460.0 l3.2,1.3 l-1.7,1.6 Z M718.0,462.5 l2.4,1.0 l-1.2,1.1 Z M722.8,458.1 l3.8,1.5 l-0.4,1.5 l-3.2,-0.7 Z M726.5,463.8 l3.2,1.3 l-1.7,1.6 Z M724.8,466.3 l2.4,1.0 l-1.2,1.1 Z M729.6,461.9 l3.8,1.5 l-0.4,1.5 l-3.2,-0.7 Z M733.3,467.5 l3.2,1.3 l-1.7,1.6 Z M731.6,470.0 l2.4,1.0 l-1.2,1.1 Z M736.4,465.7 l3.8,1.5 l-0.4,1.5 l-3.2,-0.7 Z M740.1,471.3 l3.2,1.3 l-1.7,1.6 Z M738.4,473.8 l2.4,1.0 l-1.2,1.1 Z M743.2,469.6 l3.8,1.5 l-0.4,1.5 l-3.2,-0.7 Z M746.9,475.1 l3.2,1.3 l-1.7,1.6 Z M745.2,477.5 l2.4,1.0 l-1.2,1.1 Z M750.0,473.4 l3.8,1.5 l-0.4,1.5 l-3.2,-0.7 Z M753.7,478.9 l3.2,1.3 l-1.7,1.6 Z M752.0,481.2 l2.4,1.0 l-1.2,1.1 Z M756.8,477.2 l3.8,1.5 l-0.4,1.5 l-3.2,-0.7 Z M760.5,482.6 l3.2,1.3 l-1.7,1.6 Z M758.8,485.0 l2.4,1.0 l-1.2,1.1 Z M763.6,481.0 l3.8,1.5 l-0.4,1.5 l-3.2,-0.7 Z M767.3,486.4 l3.2,1.3 l-1.7,1.6 Z M765.6,488.7 l2.4,1.0 l-1.2,1.1 Z M770.4,484.8 l3.8,1.5 l-0.4,1.5 l-3.2,-0.7 Z M774.1,490.2 l3.2,1.3 l-1.7,1.6 Z M772.4,492.5 l2.4,1.0 l-1.2,1.1 Z M777.2,488.6 l3.8,1.5 l-0.4,1.5 l-3.2,-0.7 Z M780.9,494.0 l3.2,1.3 l-1.7,1.6 Z M779.2,496.2 l2.4,1.0 l-1.2,1.1 Z M784.0,492.4 l3.8,1.5 l-0.4,1.5 l-3.2,-0.7 Z M787.7,497.7 l3.2,1.3 l-1.7,1.6 Z M786.0,499.9 l2.4,1.0 l-1.2,1.1 Z M790.8,496.2 l3.8,1.5 l-0.4,1.5 l-3.2,-0.7 Z M794.5,501.5 l3.2,1.3 l-1.7,1.6 Z M792.8,503.7 l2.4,1.0 l-1.2,1.1 Z M797.6,500.1 l3.8,1.5 l-0.4,1.5 l-3.2,-0.7 Z M801.3,505.3 l3.2,1.3 l-1.7,1.6 Z M799.6,507.4 l2.4,1.0 l-1.2,1.1 Z M804.4,503.9 l3.8,1.5 l-0.4,1.5 l-3.2,-0.7 Z M808.1,509.1 l3.2,1.3 l-1.7,1.6 Z M806.4,511.2 l2.4,1.0 l-1.2,1.1 Z M811.2,507.7 l3.8,1.5 l-0.4,1.5 l-3.2,-0.7 Z M814.9,512.8 l3.2,1.3 l-1.7,1.6 Z M813.2,514.9 l2.4,1.0 l-1.2,1.1 Z M818.0,511.5 l3.8,1.5 l-0.4,1.5 l-3.2,-0.7 Z M821.7,516.6 l3.2,1.3 l-1.7,1.6 Z M820.0,518.6 l2.4,1.0 l-1.2,1.1 Z M824.8,515.3 l3.8,1.5 l-0.4,1.5 l-3.2,-0.7 Z M828.5,520.4 l3.2,1.3 l-1.7,1.6 Z M826.8,522.4 l2.4,1.0 l-1.2,1.1 Z M831.6,519.1 l3.8,1.5 l-0.4,1.5 l-3.2,-0.7 Z M835.3,524.2 l3.2,1.3 l-1.7,1.6 Z M833.6,526.1 l2.4,1.0 l-1.2,1.1 Z M838.4,522.9 l3.8,1.5 l-0.4,1.5 l-3.2,-0.7 Z M842.1,527.9 l3.2,1.3 l-1.7,1.6 Z M840.4,529.8 l2.4,1.0 l-1.2,1.1 Z M845.2,526.7 l3.8,1.5 l-0.4,1.5 l-3.2,-0.7 Z M848.9,531.7 l3.2,1.3 l-1.7,1.6 Z M847.2,533.6 l2.4,1.0 l-1.2,1.1 Z M852.0,530.6 l3.8,1.5 l-0.4,1.5 l-3.2,-0.7 Z M854.0,537.3 l2.4,1.0 l-1.2,1.1 Z" fill="#fff" stroke="none"/>
<polygon points="530.2,339.7 858.0,524.6 858.0,532.1 524.4,343.9" fill="#fff" stroke="none"/>
<circle cx="529.8" cy="343.2" r="0.95" stroke-width="0.12" fill="#000"/>
<circle cx="534.8" cy="346.0" r="0.95" stroke-width="0.12" fill="#000"/>
<circle cx="539.8" cy="348.8" r="0.95" stroke-width="0.12" fill="#000"/>
<circle cx="544.8" cy="351.7" r="0.95" stroke-width="0.12" fill="#000"/>
<circle cx="549.8" cy="354.5" r="0.95" stroke-width="0.12" fill="#000"/>
<circle cx="554.8" cy="357.3" r="0.95" stroke-width="0.12" fill="#000"/>
<circle cx="559.8" cy="360.1" r="0.95" stroke-width="0.12" fill="#000"/>
<circle cx="564.8" cy="363.0" r="0.95" stroke-width="0.12" fill="#000"/>
<circle cx="569.8" cy="365.8" r="0.95" stroke-width="0.12" fill="#000"/>
<circle cx="574.8" cy="368.6" r="0.95" stroke-width="0.12" fill="#000"/>
<circle cx="579.8" cy="371.4" r="0.95" stroke-width="0.12" fill="#000"/>
<circle cx="584.8" cy="374.2" r="0.95" stroke-width="0.12" fill="#000"/>
<circle cx="589.8" cy="377.1" r="0.95" stroke-width="0.12" fill="#000"/>
<circle cx="594.8" cy="379.9" r="0.95" stroke-width="0.12" fill="#000"/>
<circle cx="599.8" cy="382.7" r="0.95" stroke-width="0.12" fill="#000"/>
<circle cx="604.8" cy="385.5" r="0.95" stroke-width="0.12" fill="#000"/>
<circle cx="609.8" cy="388.3" r="0.95" stroke-width="0.12" fill="#000"/>
<circle cx="614.8" cy="391.2" r="0.95" stroke-width="0.12" fill="#000"/>
<circle cx="619.8" cy="394.0" r="0.95" stroke-width="0.12" fill="#000"/>
<circle cx="624.8" cy="396.8" r="0.95" stroke-width="0.12" fill="#000"/>
<circle cx="629.8" cy="399.6" r="0.95" stroke-width="0.12" fill="#000"/>
<circle cx="634.8" cy="402.4" r="0.95" stroke-width="0.12" fill="#000"/>
<circle cx="639.8" cy="405.3" r="0.95" stroke-width="0.12" fill="#000"/>
<circle cx="644.8" cy="408.1" r="0.95" stroke-width="0.12" fill="#000"/>
<circle cx="649.8" cy="410.9" r="0.95" stroke-width="0.12" fill="#000"/>
<circle cx="654.8" cy="413.7" r="0.95" stroke-width="0.12" fill="#000"/>
<circle cx="659.8" cy="416.5" r="0.95" stroke-width="0.12" fill="#000"/>
<circle cx="664.8" cy="419.4" r="0.95" stroke-width="0.12" fill="#000"/>
<circle cx="669.8" cy="422.2" r="0.95" stroke-width="0.12" fill="#000"/>
<circle cx="674.8" cy="425.0" r="0.95" stroke-width="0.12" fill="#000"/>
<circle cx="679.8" cy="427.8" r="0.95" stroke-width="0.12" fill="#000"/>
<circle cx="684.8" cy="430.6" r="0.95" stroke-width="0.12" fill="#000"/>
<circle cx="689.8" cy="433.5" r="0.95" stroke-width="0.12" fill="#000"/>
<circle cx="694.8" cy="436.3" r="0.95" stroke-width="0.12" fill="#000"/>
<circle cx="699.8" cy="439.1" r="0.95" stroke-width="0.12" fill="#000"/>
<circle cx="704.8" cy="441.9" r="0.95" stroke-width="0.12" fill="#000"/>
<circle cx="709.8" cy="444.8" r="0.95" stroke-width="0.12" fill="#000"/>
<circle cx="714.8" cy="447.6" r="0.95" stroke-width="0.12" fill="#000"/>
<circle cx="719.8" cy="450.4" r="0.95" stroke-width="0.12" fill="#000"/>
<circle cx="724.8" cy="453.2" r="0.95" stroke-width="0.12" fill="#000"/>
<circle cx="729.8" cy="456.0" r="0.95" stroke-width="0.12" fill="#000"/>
<circle cx="734.8" cy="458.9" r="0.95" stroke-width="0.12" fill="#000"/>
<circle cx="739.8" cy="461.7" r="0.95" stroke-width="0.12" fill="#000"/>
<circle cx="744.8" cy="464.5" r="0.95" stroke-width="0.12" fill="#000"/>
<circle cx="749.8" cy="467.3" r="0.95" stroke-width="0.12" fill="#000"/>
<circle cx="754.8" cy="470.1" r="0.95" stroke-width="0.12" fill="#000"/>
<circle cx="759.8" cy="473.0" r="0.95" stroke-width="0.12" fill="#000"/>
<circle cx="764.8" cy="475.8" r="0.95" stroke-width="0.12" fill="#000"/>
<circle cx="769.8" cy="478.6" r="0.95" stroke-width="0.12" fill="#000"/>
<circle cx="774.8" cy="481.4" r="0.95" stroke-width="0.12" fill="#000"/>
<circle cx="779.8" cy="484.2" r="0.95" stroke-width="0.12" fill="#000"/>
<circle cx="784.8" cy="487.1" r="0.95" stroke-width="0.12" fill="#000"/>
<circle cx="789.8" cy="489.9" r="0.95" stroke-width="0.12" fill="#000"/>
<circle cx="794.8" cy="492.7" r="0.95" stroke-width="0.12" fill="#000"/>
<circle cx="799.8" cy="495.5" r="0.95" stroke-width="0.12" fill="#000"/>
<circle cx="804.8" cy="498.3" r="0.95" stroke-width="0.12" fill="#000"/>
<circle cx="809.8" cy="501.2" r="0.95" stroke-width="0.12" fill="#000"/>
<circle cx="814.8" cy="504.0" r="0.95" stroke-width="0.12" fill="#000"/>
<circle cx="819.8" cy="506.8" r="0.95" stroke-width="0.12" fill="#000"/>
<circle cx="824.8" cy="509.6" r="0.95" stroke-width="0.12" fill="#000"/>
<circle cx="829.8" cy="512.5" r="0.95" stroke-width="0.12" fill="#000"/>
<circle cx="834.8" cy="515.3" r="0.95" stroke-width="0.12" fill="#000"/>
<circle cx="839.8" cy="518.1" r="0.95" stroke-width="0.12" fill="#000"/>
<circle cx="844.8" cy="520.9" r="0.95" stroke-width="0.12" fill="#000"/>
<circle cx="849.8" cy="523.7" r="0.95" stroke-width="0.12" fill="#000"/>
<circle cx="854.8" cy="526.6" r="0.95" stroke-width="0.12" fill="#000"/>
<line x1="530.2" y1="339.7" x2="858.0" y2="524.6" stroke-width="1.06"/>
<line x1="524.4" y1="343.9" x2="858.0" y2="532.1" stroke-width="1.06"/>
<line x1="512.5" y1="352.3" x2="858.0" y2="541.2" stroke-width="2.12"/>
<line x1="515.0" y1="357.3" x2="838.0" y2="537.4" stroke-width="1.06"/>
<line x1="516.0" y1="360.7" x2="838.0" y2="540.2" stroke-width="1.06"/>
<line x1="505.0" y1="361.4" x2="838.0" y2="549.6" stroke-width="2.01"/>
<line x1="505.0" y1="364.9" x2="838.0" y2="553.1" stroke-width="0.94"/>
<line x1="519.0" y1="385.7" x2="838.0" y2="564.4" stroke-width="2.12"/>
<line x1="723.0" y1="381.2" x2="731.5" y2="394.4" stroke-width="1.53"/>
<line x1="725.4" y1="380.6" x2="733.6" y2="393.6" stroke-width="1.53"/>
<line x1="723.0" y1="381.2" x2="725.4" y2="380.6" stroke-width="1.42"/>
<polyline points="724.0,397.6 729.5,399.6 733.0,396.2" stroke-width="1.89" fill="none"/>
<circle cx="773.2" cy="381.6" r="0.9" stroke-width="0.71" fill="#000"/>
<line x1="768.5" y1="387.0" x2="770.0" y2="388.0" stroke-width="1.65"/>
<line x1="773.8" y1="390.0" x2="775.4" y2="391.0" stroke-width="1.65"/>
<path d="M771.6,394.4 q5,4.6 11.2,5.9" stroke-width="2.81" fill="none"/>
<line x1="771.2" y1="393.4" x2="772.6" y2="396.4" stroke-width="1.89"/>
<line x1="783.4" y1="398.4" x2="782.4" y2="402.0" stroke-width="1.89"/>
<polygon points="780.8,413.4 786.0,410.1 791.3,413.4 786.7,417.3" stroke-width="1.53" fill="none"/>
<polyline points="785.4,419.3 790.6,418.0 791.5,415.2" stroke-width="1.89" fill="none"/>
<polygon points="798.2,409.2 801.4,408.4 802.4,411.0 799.2,412.0" stroke-width="1.65" fill="#000"/>
<polygon points="797.2,427.9 818.9,416.7 820.3,418.6 798.6,429.8" stroke-width="1.42" fill="none" stroke-linejoin="round"/>
<line x1="811.7" y1="434.4" x2="830.0" y2="424.6" stroke-width="2.59"/>
<line x1="812.3" y1="436.0" x2="830.6" y2="426.2" stroke-width="1.18"/>
<circle cx="812.0" cy="435.0" r="1.3" stroke-width="1.18" fill="#000"/>
<circle cx="830.2" cy="425.2" r="1.3" stroke-width="1.18" fill="#000"/>
<line x1="666.6" y1="388.0" x2="666.6" y2="441.0" stroke-width="1.3"/>
<polygon points="685.0,458.2 690.5,461.2 690.5,465.2 685.0,462.2" stroke-width="1.18" fill="#000"/>
<polygon points="687.5,459.8 692.5,462.6 692.5,466.2 687.5,463.4" stroke-width="1.18" fill="#000"/>
<ellipse cx="609.3" cy="415.3" rx="1.6" ry="1.0" stroke-width="1.18" fill="none" transform="rotate(28 609.3 415.3)"/>
<ellipse cx="652.8" cy="442.4" rx="1.6" ry="1.0" stroke-width="1.18" fill="none" transform="rotate(28 652.8 442.4)"/>
<ellipse cx="702.9" cy="470.0" rx="1.6" ry="1.0" stroke-width="1.18" fill="none" transform="rotate(28 702.9 470.0)"/>
<ellipse cx="571.5" cy="391.5" rx="1.6" ry="1.0" stroke-width="1.18" fill="none" transform="rotate(28 571.5 391.5)"/>
<ellipse cx="760.0" cy="499.0" rx="1.6" ry="1.0" stroke-width="1.18" fill="none" transform="rotate(28 760.0 499.0)"/>
<ellipse cx="795.0" cy="521.0" rx="1.6" ry="1.0" stroke-width="1.18" fill="none" transform="rotate(28 795.0 521.0)"/>
<circle cx="611.5" cy="416.5" r="1.2" stroke-width="0.94" fill="#000"/>
<line x1="599.5" y1="418.0" x2="601.0" y2="424.5" stroke-width="1.65"/>
<line x1="597.4" y1="396.5" x2="597.4" y2="407.0" stroke-width="1.18"/>
<path d="M485.8,264.7 q-2.6,0.8 -1.0,2.9" stroke-width="1.3" fill="none"/>
<polyline points="529.2,251.0 524.5,253.2 524.3,248.2 517.5,251.5 517.6,256.6 501.5,264.4 498.0,263.0 497.8,262.4 491.5,265.5 491.7,268.8" stroke-width="1.18" fill="none"/>
<polygon points="519.0,251.8 522.6,250.2 522.7,253.6 519.2,255.2" stroke-width="1.06" fill="none"/>
<polygon points="493.0,265.8 496.5,264.2 496.6,267.0 493.2,268.6" stroke-width="1.06" fill="none"/>
<line x1="535.6" y1="259.2" x2="513.9" y2="271.6" stroke-width="1.18"/>
<polygon points="519.4,262.5 522.2,260.3 526.2,263.1 523.4,265.3" stroke-width="1.42" fill="none"/>
<polyline points="494.2,275.5 494.2,289.3 512.9,300.1" stroke-width="1.42" fill="none"/>
<polyline points="471.6,289.4 492.2,277.0" stroke-width="2.59" fill="none"/>
<line x1="473.0" y1="291.5" x2="493.0" y2="279.5" stroke-width="1.06"/>
<polyline points="492.4,276.8 494.4,275.4 494.4,287.2 491.0,291.0 488.5,288.0" stroke-width="1.53" fill="none"/>
<line x1="491.5" y1="278.5" x2="490.0" y2="286.0" stroke-width="2.38"/>
<circle cx="499.3" cy="283.6" r="1.1" stroke-width="1.18" fill="#000"/>
<circle cx="508.6" cy="288.6" r="1.0" stroke-width="1.18" fill="#000"/>
<circle cx="505.6" cy="293.6" r="1.2" stroke-width="1.42" fill="#000"/>
<circle cx="504.0" cy="291.0" r="0.8" stroke-width="0.94" fill="#000"/>
<polygon points="476.1,299.7 502.4,300.1 489.3,291.5" stroke-width="1.18" fill="none"/>
<line x1="476.1" y1="299.7" x2="486.0" y2="291.2" stroke-width="1.89"/>
<circle cx="481.6" cy="295.6" r="1.7" stroke-width="2.12" fill="none"/>
<circle cx="486.0" cy="295.4" r="1.3" stroke-width="1.65" fill="none"/>
<circle cx="478.6" cy="297.5" r="1.3" stroke-width="1.77" fill="#000"/>
<line x1="478.0" y1="288.5" x2="479.0" y2="293.0" stroke-width="1.42"/>
<line x1="476.5" y1="290.8" x2="481.0" y2="290.2" stroke-width="1.18"/>
<line x1="467.9" y1="289.5" x2="467.9" y2="338.0" stroke-width="1.18"/>
<line x1="469.7" y1="290.0" x2="469.7" y2="338.0" stroke-width="1.65"/>
<line x1="471.7" y1="289.4" x2="471.7" y2="337.0" stroke-width="1.18"/>
<polyline points="467.5,289.6 468.6,288.4 472.0,289.2" stroke-width="1.18" fill="none"/>
<line x1="468.4" y1="293.5" x2="468.4" y2="298.5" stroke-width="2.16"/>
<line x1="478.7" y1="302.2" x2="478.7" y2="335.0" stroke-width="1.3"/>
<line x1="480.0" y1="302.2" x2="480.0" y2="334.5" stroke-width="0.94"/>
<line x1="494.0" y1="308.0" x2="494.4" y2="324.5" stroke-width="2.38"/>
<line x1="496.0" y1="308.5" x2="496.2" y2="324.0" stroke-width="1.18"/>
<circle cx="494.6" cy="325.4" r="1.5" stroke-width="1.42" fill="#000"/>
<circle cx="475.5" cy="314.0" r="0.9" stroke-width="1.06" fill="#000"/>
<line x1="479.4" y1="301.8" x2="540.0" y2="335.8" stroke-width="1.18"/>
<line x1="484.3" y1="301.8" x2="540.0" y2="332.6" stroke-width="1.18"/>
<line x1="489.3" y1="292.3" x2="540.0" y2="320.2" stroke-width="1.18"/>
<line x1="491.7" y1="290.7" x2="540.0" y2="317.2" stroke-width="1.18"/>
<ellipse cx="500.5" cy="305.5" rx="1.2" ry="1.8" stroke-width="1.18" fill="none" transform="rotate(-30 500.5 305.5)"/>
<circle cx="531.0" cy="326.0" r="0.9" stroke-width="1.06" fill="#000"/>
<circle cx="525.0" cy="319.0" r="0.8" stroke-width="0.94" fill="#000"/>
<line x1="517.0" y1="293.0" x2="517.4" y2="300.0" stroke-width="1.89"/>
<line x1="520.2" y1="296.0" x2="520.4" y2="306.0" stroke-width="2.16"/>
<line x1="515.0" y1="292.5" x2="522.0" y2="296.0" stroke-width="2.12"/>
<line x1="458.9" y1="344.9" x2="472.8" y2="337.5" stroke-width="2.81"/>
<line x1="460.0" y1="346.6" x2="473.6" y2="339.2" stroke-width="1.18"/>
<circle cx="473.6" cy="337.6" r="1.6" stroke-width="1.65" fill="#000"/>
<polygon points="447.4,344.1 452.3,342.7 452.8,370.2 447.9,372.2" stroke-width="1.42" fill="#fff" stroke-linejoin="round"/>
<polygon points="452.5,343.0 458.7,344.6 496.7,326.9 498.1,368.8" stroke-width="1.18" fill="#fff"/>
<line x1="458.3" y1="344.4" x2="474.5" y2="334.8" stroke-width="2.38"/>
<line x1="452.8" y1="343.2" x2="498.1" y2="368.8" stroke-width="1.42"/>
<line x1="459.2" y1="353.5" x2="498.1" y2="373.7" stroke-width="1.18"/>
<polyline points="452.8,370.2 499.1,395.9" stroke-width="1.42" fill="none"/>
<polygon points="459.6,347.8 464.8,350.6 466.6,349.6 461.4,346.8" stroke-width="1.06" fill="none"/>
<ellipse cx="482.6" cy="339.6" rx="1.8" ry="1.1" stroke-width="1.06" fill="none"/>
<polyline points="463.2,377.1 463.6,390.4 489.6,404.2" stroke-width="1.3" fill="none"/>
<polyline points="489.8,394.9 489.8,404.5" stroke-width="1.18" fill="none"/>
<circle cx="492.6" cy="396.6" r="0.8" stroke-width="0.94" fill="#000"/>
<polygon points="486.6,405.6 493.9,409.6 493.9,427.3 486.6,423.4" stroke-width="1.42" fill="#fff"/>
<polygon points="493.9,409.6 499.6,406.4 499.6,411.0 504.4,412.8 511.6,408.6 511.6,418.1 493.9,427.3" stroke-width="1.3" fill="#fff"/>
<line x1="486.6" y1="405.6" x2="497.8" y2="399.7" stroke-width="1.18"/>
<polygon points="498.1,328.9 503.1,336.3 504.2,412.8 499.6,410.9" stroke-width="1.42" fill="#fff"/>
<polygon points="503.1,336.3 513.4,340.2 512.6,408.4 504.2,412.8" stroke-width="1.42" fill="#fff"/>
<ellipse cx="506.6" cy="353.0" rx="1.2" ry="1.8" stroke-width="1.06" fill="none" transform="rotate(20 506.6 353.0)"/>
<circle cx="501.0" cy="343.0" r="0.6" stroke-width="0.71" fill="#000"/>
<circle cx="501.5" cy="352.0" r="0.5" stroke-width="0.59" fill="#000"/>
<polygon points="498.1,326.5 503.2,323.2 516.8,329.4 516.8,336.5 511.5,340.0 503.1,336.3" stroke-width="1.42" fill="#fff"/>
<polyline points="503.1,336.3 503.2,330.0 516.8,329.4" stroke-width="1.06" fill="none"/>
<line x1="511.5" y1="340.0" x2="511.4" y2="333.0" stroke-width="1.06"/>
<line x1="503.2" y1="330.0" x2="511.4" y2="333.2" stroke-width="1.06"/>
<line x1="511.4" y1="333.2" x2="516.8" y2="329.6" stroke-width="1.06"/>
<polygon points="498.6,323.2 517.6,311.6 520.4,313.6 501.6,325.6" stroke-width="1.3" fill="#fff"/>
<line x1="500.2" y1="324.2" x2="518.8" y2="312.8" stroke-width="2.59"/>
<line x1="505.0" y1="318.0" x2="508.0" y2="320.8" stroke-width="1.89"/>
<line x1="511.0" y1="314.4" x2="514.0" y2="317.2" stroke-width="1.89"/>
<circle cx="513.5" cy="311.2" r="1.3" stroke-width="1.42" fill="#000"/>
<polyline points="514.9,383.9 514.9,416.8" stroke-width="1.3" fill="none"/>
<polyline points="514.9,385.2 531.3,393.8 531.3,412.8 522.0,408.0" stroke-width="1.18" fill="none"/>
<polygon points="531.9,397.0 537.2,397.0 531.9,403.6" stroke-width="1.06" fill="none"/>
<circle cx="519.8" cy="395.5" r="0.6" stroke-width="0.71" fill="#000"/>
<polyline points="511.6,418.1 549.7,439.1 579.3,420.7" stroke-width="1.42" fill="none"/>
<line x1="549.7" y1="437.6" x2="577.0" y2="420.6" stroke-width="1.06"/>
<line x1="514.5" y1="352.0" x2="514.5" y2="372.0" stroke-width="1.18"/>
<line x1="517.0" y1="358.0" x2="517.6" y2="376.0" stroke-width="2.38"/>
<polygon points="780.5,534.8 814.5,592.5 829.0,600.6 837.0,598.0 837.0,566.5" stroke-width="1.3" fill="#fff" stroke-linejoin="round"/>
<line x1="783.0" y1="537.4" x2="837.0" y2="567.8" stroke-width="2.81"/>
<line x1="787.0" y1="541.4" x2="789.2" y2="544.0" stroke-width="1.65"/>
<line x1="791.6" y1="544.0" x2="793.8" y2="546.6" stroke-width="1.65"/>
<line x1="796.2" y1="546.6" x2="798.4" y2="549.2" stroke-width="1.65"/>
<line x1="800.8" y1="549.2" x2="803.0" y2="551.8" stroke-width="1.65"/>
<line x1="805.4" y1="551.8" x2="807.6" y2="554.4" stroke-width="1.65"/>
<line x1="810.0" y1="554.4" x2="812.2" y2="557.0" stroke-width="1.65"/>
<line x1="814.6" y1="557.0" x2="816.8" y2="559.6" stroke-width="1.65"/>
<line x1="819.2" y1="559.6" x2="821.4" y2="562.2" stroke-width="1.65"/>
<line x1="823.8" y1="562.2" x2="826.0" y2="564.8" stroke-width="1.65"/>
<line x1="828.4" y1="564.8" x2="830.6" y2="567.4" stroke-width="1.65"/>
<line x1="833.0" y1="567.4" x2="835.2" y2="570.0" stroke-width="1.65"/>
<circle cx="812.1" cy="567.1" r="1.3" stroke-width="1.18" fill="#000"/>
<circle cx="792.5" cy="553.4" r="0.8" stroke-width="0.94" fill="#000"/>
<circle cx="831.8" cy="553.4" r="0.8" stroke-width="0.94" fill="#000"/>
<circle cx="832.0" cy="568.0" r="1.2" stroke-width="1.18" fill="none"/>
<polygon points="826.2,535.8 846.5,547.0 846.5,549.4 826.2,538.2" stroke-width="1.18" fill="#fff"/>
<polygon points="837.4,513.5 846.5,510.0 846.5,601.0 837.4,604.5" stroke-width="1.42" fill="#fff"/>
<line x1="840.9" y1="512.2" x2="840.9" y2="603.0" stroke-width="1.18"/>
<circle cx="839.2" cy="522.0" r="0.7" stroke-width="0.83" fill="#000"/>
<circle cx="839.2" cy="545.0" r="0.7" stroke-width="0.83" fill="#000"/>
<circle cx="839.2" cy="566.0" r="0.7" stroke-width="0.83" fill="#000"/>
<circle cx="839.2" cy="588.0" r="0.7" stroke-width="0.83" fill="#000"/>
<polygon points="826.2,535.8 846.5,547.0 846.5,549.6 826.2,538.4" stroke-width="1.18" fill="#fff"/>
<polygon points="828.3,596.2 838.8,591.3 838.8,603.2 829.0,608.1" stroke-width="1.3" fill="#fff"/>
<polygon points="828.3,596.2 831.8,597.6 831.8,609.0 828.3,607.6" stroke-width="1.3" fill="#fff"/>
<line x1="841.2" y1="592.0" x2="841.2" y2="602.0" stroke-width="1.18"/>
<line x1="843.5" y1="592.0" x2="843.5" y2="601.0" stroke-width="2.12"/>
<polyline points="838.1,606.7 932.0,658.2 969.9,635.6" stroke-width="2.12" fill="none"/>
<polyline points="847.1,602.2 935.6,650.0" stroke-width="1.18" fill="none"/>
<line x1="932.0" y1="658.2" x2="932.0" y2="650.5" stroke-width="1.42"/>
<line x1="844.4" y1="598.5" x2="857.0" y2="605.5" stroke-width="1.18"/>
<polyline points="872.0,592.5 884.0,585.5" stroke-width="2.16" fill="none"/>
<line x1="858.0" y1="599.5" x2="884.0" y2="584.5" stroke-width="1.06"/>
<line x1="860.0" y1="601.0" x2="886.0" y2="586.0" stroke-width="1.06"/>
<ellipse cx="883.0" cy="598.4" rx="1.5" ry="0.9" stroke-width="1.18" fill="#000"/>
<ellipse cx="866.0" cy="601.0" rx="1.5" ry="0.9" stroke-width="1.18" fill="#000"/>
<ellipse cx="907.0" cy="624.5" rx="1.5" ry="0.9" stroke-width="1.18" fill="#000"/>
<ellipse cx="923.0" cy="633.0" rx="1.5" ry="0.9" stroke-width="1.18" fill="#000"/>
<ellipse cx="929.0" cy="639.0" rx="1.5" ry="0.9" stroke-width="1.18" fill="#000"/>
<ellipse cx="892.0" cy="625.0" rx="1.5" ry="0.9" stroke-width="1.18" fill="#000"/>
<ellipse cx="846.0" cy="611.0" rx="1.5" ry="0.9" stroke-width="1.18" fill="#000"/>
<polygon points="908.0,641.5 918.0,647.0 918.0,650.0 908.0,644.5" stroke-width="1.18" fill="none"/>
<polyline points="889.0,626.2 893.0,624.0 893.8,626.0" stroke-width="1.06" fill="none"/>
<polyline points="894.0,585.0 894.0,621.5 924.0,604.5" stroke-width="1.3" fill="none"/>
<line x1="896.4" y1="586.0" x2="896.4" y2="620.0" stroke-width="0.94"/>
<polygon points="935.6,588.6 937.4,650.0 969.9,635.6 969.9,628.4 996.1,613.9 996.1,604.9 1007.0,597.7 1007.0,583.2 975.3,567.0" stroke-width="1.42" fill="#fff"/>
<line x1="933.4" y1="587.5" x2="934.6" y2="651.0" stroke-width="1.18"/>
<line x1="935.6" y1="588.6" x2="937.4" y2="650.0" stroke-width="1.89"/>
<polyline points="943.8,591.4 974.3,574.6 974.3,583.0 944.6,600.5 944.6,605.0" stroke-width="1.3" fill="none"/>
<line x1="945.5" y1="594.2" x2="973.0" y2="579.0" stroke-width="1.06"/>
<line x1="945.5" y1="596.0" x2="973.0" y2="581.0" stroke-width="1.06"/>
<polygon points="945.4,639.1 949.4,636.9 949.4,641.9 945.4,644.1" stroke-width="1.3" fill="none"/>
<line x1="945.4" y1="641.6" x2="949.4" y2="639.3" stroke-width="2.12"/>
<polygon points="966.1,626.5 970.1,624.3 970.1,629.3 966.1,631.5" stroke-width="1.3" fill="none"/>
<line x1="966.1" y1="629.0" x2="970.1" y2="626.7" stroke-width="2.12"/>
<polygon points="988.7,612.9 992.7,610.7 992.7,615.7 988.7,617.9" stroke-width="1.3" fill="none"/>
<line x1="988.7" y1="615.4" x2="992.7" y2="613.1" stroke-width="2.12"/>
<circle cx="947.0" cy="606.0" r="0.6" stroke-width="0.71" fill="#000"/>
<circle cx="950.0" cy="611.0" r="0.6" stroke-width="0.71" fill="#000"/>
<circle cx="961.0" cy="603.0" r="0.6" stroke-width="0.71" fill="#000"/>
<circle cx="972.0" cy="596.0" r="0.6" stroke-width="0.71" fill="#000"/>
<circle cx="975.0" cy="599.0" r="0.6" stroke-width="0.71" fill="#000"/>
<circle cx="960.0" cy="609.0" r="0.6" stroke-width="0.71" fill="#000"/>
<circle cx="946.0" cy="613.0" r="0.6" stroke-width="0.71" fill="#000"/>
<polygon points="983.5,586.0 1004.5,574.0 1006.5,583.0 1006.5,596.5 997.0,602.0 997.0,594.0 983.5,601.5" stroke-width="1.18" fill="#fff"/>
<polygon points="988.0,577.5 997.0,573.0 1003.0,576.5 994.0,581.5" stroke-width="1.18" fill="none"/>
<polygon points="1001.5,564.3 1024.1,556.1 1025.0,579.6 1007.9,589.5" stroke-width="1.42" fill="#fff"/>
<path d="M1009.7,577.9 q1.8,-1.8 3.6,-0.8 v6.4 q-1.8,1.8 -3.6,0.8 Z" stroke-width="1.18" fill="none"/>
<line x1="1011.5" y1="579.0" x2="1011.5" y2="583.7" stroke-width="1.77"/>
<path d="M1016.9000000000001,573.9 q1.8,-1.8 3.6,-0.8 v6.4 q-1.8,1.8 -3.6,0.8 Z" stroke-width="1.18" fill="none"/>
<line x1="1018.7" y1="575.0" x2="1018.7" y2="579.7" stroke-width="1.77"/>
<circle cx="1012.0" cy="573.5" r="0.6" stroke-width="0.71" fill="#000"/>
<circle cx="1019.0" cy="569.8" r="0.6" stroke-width="0.71" fill="#000"/>
<polyline points="965.4,535.5 1024.1,556.1" stroke-width="1.42" fill="none"/>
<line x1="968.0" y1="539.5" x2="1003.0" y2="552.5" stroke-width="1.18"/>
<line x1="968.0" y1="543.0" x2="1001.5" y2="556.0" stroke-width="1.18"/>
<line x1="965.4" y1="545.5" x2="1001.5" y2="564.3" stroke-width="1.18"/>
<polyline points="970.0,541.0 970.0,556.0" stroke-width="1.18" fill="none"/>
<line x1="984.0" y1="546.5" x2="984.0" y2="562.0" stroke-width="1.18"/>
<line x1="996.0" y1="551.0" x2="996.0" y2="567.0" stroke-width="1.18"/>
<line x1="970.0" y1="556.0" x2="996.0" y2="567.5" stroke-width="1.06"/>
<line x1="975.3" y1="567.0" x2="1001.5" y2="564.3" stroke-width="0.0"/>
<polyline points="975.3,567.0 981.0,563.5 1001.0,571.0" stroke-width="1.06" fill="none"/>
<circle cx="978.0" cy="539.5" r="1.0" stroke-width="1.18" fill="#000"/>
<circle cx="986.5" cy="563.0" r="1.6" stroke-width="1.89" fill="#000"/>
<line x1="966.0" y1="548.0" x2="966.0" y2="560.0" stroke-width="1.89"/>
<line x1="963.0" y1="558.0" x2="975.3" y2="567.0" stroke-width="1.18"/>
<polygon points="872.4,562.4 906.7,540.8 977.2,567.0 935.6,589.5" stroke-width="1.3" fill="#fff"/>
<line x1="908.0" y1="544.5" x2="971.0" y2="568.0" stroke-width="1.06"/>
<line x1="910.0" y1="547.5" x2="955.0" y2="564.0" stroke-width="2.16"/>
<polyline points="855.2,551.6 866.0,556.1 866.0,561.0 872.4,564.0 872.4,562.4" stroke-width="1.18" fill="none"/>
<polyline points="855.2,551.6 855.2,566.0 935.6,604.0" stroke-width="1.3" fill="none"/>
<line x1="855.2" y1="556.0" x2="866.0" y2="561.0" stroke-width="1.06"/>
<line x1="872.4" y1="564.5" x2="935.6" y2="592.5" stroke-width="1.06"/>
<polyline points="857.0,553.5 889.5,534.5 906.7,540.8" stroke-width="1.18" fill="none"/>
<line x1="889.5" y1="534.5" x2="889.5" y2="522.5" stroke-width="1.18"/>
<ellipse cx="885.0" cy="562.0" rx="1.3" ry="0.9" stroke-width="1.06" fill="#000"/>
<ellipse cx="890.5" cy="568.5" rx="1.3" ry="0.9" stroke-width="1.06" fill="#000"/>
<ellipse cx="896.0" cy="557.5" rx="1.3" ry="0.9" stroke-width="1.06" fill="#000"/>
<ellipse cx="905.0" cy="561.0" rx="1.3" ry="0.9" stroke-width="1.06" fill="#000"/>
<ellipse cx="921.0" cy="564.0" rx="1.3" ry="0.9" stroke-width="1.06" fill="#000"/>
<ellipse cx="929.0" cy="571.5" rx="1.3" ry="0.9" stroke-width="1.06" fill="#000"/>
<ellipse cx="936.0" cy="568.0" rx="1.3" ry="0.9" stroke-width="1.06" fill="#000"/>
<ellipse cx="912.0" cy="575.5" rx="1.3" ry="0.9" stroke-width="1.06" fill="#000"/>
<ellipse cx="948.0" cy="570.5" rx="1.3" ry="0.9" stroke-width="1.06" fill="#000"/>
<ellipse cx="943.0" cy="579.0" rx="1.3" ry="0.9" stroke-width="1.06" fill="#000"/>
<ellipse cx="902.0" cy="572.0" rx="1.3" ry="0.9" stroke-width="1.06" fill="#000"/>
<ellipse cx="919.0" cy="556.0" rx="1.3" ry="0.9" stroke-width="1.06" fill="#000"/>
<ellipse cx="876.5" cy="562.5" rx="1.3" ry="0.9" stroke-width="1.06" fill="#000"/>
<ellipse cx="927.0" cy="582.5" rx="1.3" ry="0.9" stroke-width="1.06" fill="#000"/>
<polygon points="905.0,575.5 913.0,579.0 917.0,576.5 909.0,573.0" stroke-width="1.18" fill="none"/>
<polygon points="915.0,583.0 924.0,587.0 928.5,584.5 919.5,580.5" stroke-width="1.18" fill="none"/>
<polygon points="898.0,579.0 906.0,583.0 906.0,586.0 898.0,582.0" stroke-width="1.42" fill="#000"/>
<line x1="858.0" y1="566.0" x2="858.0" y2="596.0" stroke-width="1.18"/>
<line x1="860.4" y1="567.0" x2="860.4" y2="597.0" stroke-width="0.94"/>
<line x1="894.0" y1="583.0" x2="894.0" y2="588.0" stroke-width="1.18"/>
<line x1="931.5" y1="602.0" x2="931.5" y2="648.0" stroke-width="1.18"/>
<line x1="929.0" y1="601.0" x2="929.0" y2="610.0" stroke-width="0.94"/>
<line x1="900.0" y1="530.0" x2="893.0" y2="552.5" stroke-width="1.89"/>
<circle cx="893.0" cy="553.5" r="1.6" stroke-width="1.42" fill="none"/>
<circle cx="896.5" cy="555.5" r="1.2" stroke-width="1.42" fill="#000"/>
<polygon points="846.0,512.0 872.0,498.5 884.0,505.0 884.0,531.0 858.0,546.0 846.0,540.0" stroke-width="1.18" fill="#fff"/>
<polygon points="860.4,514.8 874.3,508.1 878.6,513.8 864.7,521.4" stroke-width="1.18" fill="#000"/>
<polygon points="857.8,521.5 869.6,517.2 872.8,524.5 861.2,529.0" stroke-width="1.42" fill="#fff"/>
<line x1="859.5" y1="524.5" x2="870.5" y2="520.2" stroke-width="1.89"/>
<polygon points="861.2,534.3 870.4,530.0 870.4,537.0 861.2,541.2" stroke-width="1.18" fill="#000"/>
<line x1="862.6" y1="533.2" x2="862.6" y2="540.4" stroke-width="0.59" stroke="#fff"/>
<line x1="864.8" y1="532.2" x2="864.8" y2="539.4" stroke-width="0.59" stroke="#fff"/>
<line x1="867.0" y1="531.2" x2="867.0" y2="538.4" stroke-width="0.59" stroke="#fff"/>
<line x1="869.2" y1="530.2" x2="869.2" y2="537.4" stroke-width="0.59" stroke="#fff"/>
<polygon points="872.0,529.5 881.0,525.2 881.0,528.0 872.0,532.4" stroke-width="1.65" fill="none"/>
<polygon points="848.0,518.0 856.0,514.0 856.0,529.0 848.0,533.0" stroke-width="1.18" fill="#000"/>
<line x1="850.0" y1="520.5" x2="854.4" y2="518.4" stroke-width="0.94" stroke="#fff"/>
<line x1="850.0" y1="524.5" x2="854.4" y2="522.4" stroke-width="0.94" stroke="#fff"/>
<line x1="850.0" y1="528.5" x2="854.4" y2="526.4" stroke-width="0.94" stroke="#fff"/>
<line x1="848.0" y1="536.0" x2="884.0" y2="545.0" stroke-width="0.0"/>
<line x1="846.0" y1="540.0" x2="858.0" y2="546.0" stroke-width="1.42"/>
<polygon points="855.0,545.0 872.5,536.5 873.6,538.4 856.0,547.0" stroke-width="1.18" fill="none"/>
<circle cx="851.0" cy="510.5" r="1.25" stroke-width="0.71" fill="#000"/>
<circle cx="853.5" cy="507.0" r="1.25" stroke-width="0.71" fill="#000"/>
<circle cx="855.5" cy="511.5" r="1.25" stroke-width="0.71" fill="#000"/>
<circle cx="858.0" cy="516.5" r="1.25" stroke-width="0.71" fill="#000"/>
<circle cx="873.0" cy="527.5" r="1.25" stroke-width="0.71" fill="#000"/>
<circle cx="877.5" cy="525.5" r="1.25" stroke-width="0.71" fill="#000"/>
<circle cx="880.5" cy="517.5" r="1.25" stroke-width="0.71" fill="#000"/>
<circle cx="875.0" cy="522.0" r="1.25" stroke-width="0.71" fill="#000"/>
<circle cx="866.0" cy="527.5" r="1.25" stroke-width="0.71" fill="#000"/>
<circle cx="852.0" cy="536.5" r="1.25" stroke-width="0.71" fill="#000"/>
<circle cx="852.5" cy="543.0" r="1.25" stroke-width="0.71" fill="#000"/>
<circle cx="876.0" cy="533.5" r="1.25" stroke-width="0.71" fill="#000"/>
<circle cx="879.0" cy="531.0" r="1.25" stroke-width="0.71" fill="#000"/>
<polygon points="892.5,489.4 941.0,516.2 923.3,527.8 874.8,501.0" stroke-width="0.94" fill="#fff"/>
<line x1="892.5" y1="489.4" x2="941.0" y2="516.2" stroke-width="1.89"/>
<line x1="891.1" y1="490.3" x2="939.6" y2="517.1" stroke-width="1.18"/>
<line x1="889.7" y1="491.3" x2="938.2" y2="518.1" stroke-width="1.18"/>
<line x1="888.3" y1="492.2" x2="936.8" y2="519.0" stroke-width="1.89"/>
<line x1="885.4" y1="494.0" x2="933.9" y2="520.8" stroke-width="1.42"/>
<line x1="884.2" y1="494.9" x2="932.7" y2="521.7" stroke-width="1.18"/>
<line x1="882.6" y1="495.9" x2="931.1" y2="522.7" stroke-width="1.65"/>
<line x1="881.3" y1="496.7" x2="929.8" y2="523.5" stroke-width="1.06"/>
<line x1="880.1" y1="497.5" x2="928.6" y2="524.3" stroke-width="1.06"/>
<line x1="878.9" y1="498.3" x2="927.4" y2="525.1" stroke-width="1.06"/>
<line x1="877.6" y1="499.1" x2="926.1" y2="525.9" stroke-width="1.06"/>
<line x1="876.4" y1="500.0" x2="924.9" y2="526.8" stroke-width="1.06"/>
<line x1="874.8" y1="501.0" x2="923.3" y2="527.8" stroke-width="2.12"/>
<polygon points="897.0,495.6 915.0,505.6 912.6,507.2 894.6,497.2" stroke-width="0.94" fill="#fff"/>
<polygon points="919.0,507.8 933.0,515.6 930.6,517.2 916.6,509.4" stroke-width="0.94" fill="#fff"/>
<line x1="907.5" y1="512.5" x2="907.5" y2="524.5" stroke-width="2.38"/>
<line x1="910.0" y1="514.0" x2="910.0" y2="526.0" stroke-width="1.18"/>
<polygon points="874.8,503.4 956.0,548.8 956.6,551.6 954.6,553.0 871.8,506.8" stroke-width="1.3" fill="#fff" stroke-linejoin="round"/>
<polygon points="926.0,518.5 934.0,514.5 948.6,522.0 948.6,544.0 940.0,548.0 926.0,541.0" stroke-width="1.18" fill="#000"/>
<circle cx="929.0" cy="523.0" r="0.9" stroke-width="0.12" fill="#fff"/>
<circle cx="933.0" cy="528.0" r="0.9" stroke-width="0.12" fill="#fff"/>
<circle cx="937.5" cy="533.0" r="0.9" stroke-width="0.12" fill="#fff"/>
<circle cx="930.0" cy="534.5" r="0.9" stroke-width="0.12" fill="#fff"/>
<circle cx="943.0" cy="527.0" r="0.9" stroke-width="0.12" fill="#fff"/>
<circle cx="944.5" cy="538.0" r="0.9" stroke-width="0.12" fill="#fff"/>
<circle cx="935.0" cy="540.5" r="0.9" stroke-width="0.12" fill="#fff"/>
<circle cx="940.0" cy="521.5" r="0.9" stroke-width="0.12" fill="#fff"/>
<line x1="929.5" y1="536.0" x2="946.0" y2="544.0" stroke-width="0.71" stroke="#fff"/>
<polygon points="837.2,512.2 846.0,516.9 859.7,511.3 874.2,498.6 883.2,492.3 910.3,473.4 935.6,460.7 917.5,450.8 894.0,464.3 877.8,468.8 867.9,481.5" stroke-width="1.42" fill="#fff" stroke-linejoin="round"/>
<line x1="877.8" y1="468.8" x2="894.5" y2="478.0" stroke-width="1.18"/>
<line x1="867.9" y1="481.5" x2="883.2" y2="492.3" stroke-width="0.0"/>
<line x1="869.5" y1="481.5" x2="884.0" y2="490.6" stroke-width="1.06"/>
<polygon points="909.0,459.5 919.5,454.0 928.0,459.0 917.5,465.0" stroke-width="1.3" fill="none"/>
<line x1="897.0" y1="467.5" x2="909.0" y2="459.8" stroke-width="1.06"/>
<line x1="905.0" y1="471.0" x2="917.5" y2="465.0" stroke-width="1.06"/>
<circle cx="873.0" cy="486.0" r="0.85" stroke-width="1.0" fill="#000"/>
<circle cx="878.0" cy="480.0" r="0.85" stroke-width="1.0" fill="#000"/>
<circle cx="883.0" cy="484.5" r="0.85" stroke-width="1.0" fill="#000"/>
<circle cx="888.0" cy="476.5" r="0.85" stroke-width="1.0" fill="#000"/>
<circle cx="893.0" cy="471.8" r="0.85" stroke-width="1.0" fill="#000"/>
<circle cx="899.0" cy="475.8" r="0.85" stroke-width="1.0" fill="#000"/>
<circle cx="866.0" cy="493.2" r="0.85" stroke-width="1.0" fill="#000"/>
<circle cx="858.0" cy="499.0" r="0.85" stroke-width="1.0" fill="#000"/>
<circle cx="852.0" cy="506.0" r="0.85" stroke-width="1.0" fill="#000"/>
<circle cx="845.5" cy="510.5" r="0.85" stroke-width="1.0" fill="#000"/>
<circle cx="872.0" cy="493.0" r="0.85" stroke-width="1.0" fill="#000"/>
<circle cx="862.0" cy="505.5" r="0.85" stroke-width="1.0" fill="#000"/>
<circle cx="853.5" cy="512.0" r="0.85" stroke-width="1.0" fill="#000"/>
<circle cx="868.0" cy="484.5" r="1.5" stroke-width="1.18" fill="#000"/>
<circle cx="872.0" cy="488.5" r="1.5" stroke-width="1.18" fill="#000"/>
<circle cx="866.5" cy="489.0" r="1.5" stroke-width="1.18" fill="#000"/>
<circle cx="850.0" cy="506.8" r="1.5" stroke-width="1.18" fill="#000"/>
<circle cx="855.0" cy="510.5" r="1.5" stroke-width="1.18" fill="#000"/>
<circle cx="903.0" cy="468.5" r="1.5" stroke-width="1.18" fill="#000"/>
<circle cx="908.0" cy="471.5" r="1.5" stroke-width="1.18" fill="#000"/>
<line x1="858.0" y1="504.5" x2="869.0" y2="496.0" stroke-width="1.89"/>
<polygon points="935.6,460.7 950.5,467.8 952.8,472.0 952.8,487.8 937.4,495.9 910.3,484.2 910.3,473.4" stroke-width="1.42" fill="#fff" stroke-linejoin="round"/>
<line x1="921.0" y1="467.5" x2="940.0" y2="476.0" stroke-width="1.18"/>
<line x1="940.0" y1="476.0" x2="952.5" y2="469.5" stroke-width="1.18"/>
<line x1="940.0" y1="476.0" x2="940.0" y2="493.5" stroke-width="1.18"/>
<polygon points="936.8,467.5 940.0,469.0 940.0,473.0 936.8,471.5" stroke-width="1.18" fill="none"/>
<line x1="911.0" y1="479.0" x2="934.0" y2="489.5" stroke-width="1.18"/>
<line x1="918.0" y1="478.0" x2="918.0" y2="488.0" stroke-width="1.42"/>
<line x1="921.0" y1="479.0" x2="921.0" y2="490.0" stroke-width="2.16"/>
<path d="M912,476.5 q0,8 5,9 q3,0.6 6,4 l8,3.5" stroke-width="1.3" fill="none"/>
<circle cx="917.0" cy="476.0" r="1.6" stroke-width="1.42" fill="#000"/>
<circle cx="924.0" cy="482.5" r="2.2" stroke-width="1.42" fill="#000"/>
<circle cx="948.0" cy="480.5" r="0.8" stroke-width="0.94" fill="#000"/>
<polygon points="925.0,488.0 936.0,493.0 936.0,498.0 925.0,493.0" stroke-width="1.3" fill="#000"/>
<polygon points="938.0,487.5 946.0,483.5 946.0,494.0 938.0,497.5" stroke-width="1.18" fill="none"/>
<line x1="943.0" y1="480.0" x2="943.0" y2="494.0" stroke-width="1.89"/>
<line x1="951.3" y1="472.0" x2="951.3" y2="488.0" stroke-width="0.94"/>
<polygon points="948.3,523.9 965.4,514.9 965.4,538.4 948.3,545.6" stroke-width="1.3" fill="#fff"/>
<circle cx="957.3" cy="527.5" r="5.2" stroke-width="1.42" fill="#fff"/>
<circle cx="957.3" cy="527.5" r="2.8" stroke-width="2.38" fill="none"/>
<circle cx="957.3" cy="527.5" r="1.0" stroke-width="1.18" fill="#000"/>
<ellipse cx="952.5" cy="516.0" rx="3.4" ry="5.2" stroke-width="1.42" fill="#fff" transform="rotate(-20 952.5 516.0)"/>
<ellipse cx="953.5" cy="516.5" rx="1.6" ry="3" stroke-width="1.89" fill="none" transform="rotate(-20 953.5 516.5)"/>
<line x1="955.5" y1="512.0" x2="964.5" y2="515.0" stroke-width="1.18"/>
<polygon points="937.0,522.0 948.0,527.0 948.0,544.0 937.0,538.0" stroke-width="1.18" fill="#000"/>
<circle cx="940.0" cy="526.0" r="0.9" stroke-width="0.12" fill="#fff"/>
<circle cx="944.0" cy="531.0" r="0.9" stroke-width="0.12" fill="#fff"/>
<circle cx="941.0" cy="536.0" r="0.9" stroke-width="0.12" fill="#fff"/>
<circle cx="945.5" cy="539.0" r="0.9" stroke-width="0.12" fill="#fff"/>
<line x1="950.0" y1="543.0" x2="950.0" y2="553.0" stroke-width="1.89"/>
<line x1="960.5" y1="539.0" x2="960.5" y2="551.0" stroke-width="1.18"/>
<circle cx="966.5" cy="551.0" r="1.8" stroke-width="1.89" fill="#000"/>
<line x1="872.4" y1="510.5" x2="956.0" y2="552.0" stroke-width="1.18"/>
<line x1="884.0" y1="531.0" x2="955.0" y2="562.5" stroke-width="1.18"/>
<line x1="906.7" y1="540.8" x2="935.0" y2="527.5" stroke-width="0.0"/>
<path d="M992.6,238 A46,47 0 0 1 1037,191 H1110 A11.5,11.5 0 0 1 1121.5,202.5 V306 A42,42.5 0 0 1 1080,348.6 H1004 A11.5,11.5 0 0 1 992.6,337 Z" stroke-width="1.3" fill="none" stroke-dasharray="18 3 3 3"/>
<text x="1069.9" y="170.9" font-size="14.8" textLength="18.4" lengthAdjust="spacingAndGlyphs" stroke="none" fill="#000">525</text>
<line x1="1069.3" y1="172.8" x2="1088.8" y2="172.8" stroke="#0000ff" stroke-width="1.75"/>
<line x1="1077.3" y1="173.4" x2="1068.7" y2="191.0" stroke-width="1.18"/>
<text x="1096.2" y="215.8" font-size="14.8" textLength="18.1" lengthAdjust="spacingAndGlyphs" stroke="none" fill="#000">618</text>
<line x1="1095.6" y1="217.7" x2="1114.8" y2="217.7" stroke="#0000ff" stroke-width="1.75"/>
<line x1="1103.1" y1="218.8" x2="1094.0" y2="237.0" stroke-width="1.18"/>
<text x="1143.4" y="340.3" font-size="14.8" textLength="18.3" lengthAdjust="spacingAndGlyphs" stroke="none" fill="#000">562</text>
<line x1="1142.8" y1="342.2" x2="1162.2" y2="342.2" stroke="#0000ff" stroke-width="1.75"/>
<line x1="1152.2" y1="329.0" x2="1143.1" y2="303.5" stroke-width="1.18"/>
<text x="1098.2" y="422.3" font-size="14.8" textLength="18.1" lengthAdjust="spacingAndGlyphs" stroke="none" fill="#000">561</text>
<line x1="1097.6" y1="424.2" x2="1116.8" y2="424.2" stroke="#0000ff" stroke-width="1.75"/>
<line x1="1106.3" y1="412.4" x2="1089.6" y2="396.4" stroke-width="1.18"/>
<text x="942.8" y="426.0" font-size="14.8" textLength="18.3" lengthAdjust="spacingAndGlyphs" stroke="none" fill="#000">220</text>
<line x1="942.2" y1="427.9" x2="961.6" y2="427.9" stroke="#0000ff" stroke-width="1.75"/>
<line x1="955.7" y1="414.9" x2="968.1" y2="397.4" stroke-width="1.18"/>
<circle cx="1158.4" cy="419.5" r="10.2" stroke-width="1.24" fill="none"/>
<text x="1155.2" y="425.2" font-size="14.8" textLength="7" lengthAdjust="spacingAndGlyphs" stroke="none" fill="#000">M</text>
<line x1="1164.8" y1="394.9" x2="1159.2" y2="409.6" stroke-width="1.18"/>
<polygon points="1008.6,219.8 1017.2,211.7 1028.7,218.1 1019.6,226.4" stroke-width="1.18" fill="#fff"/>
<polygon points="1001.2,251.7 1024.5,223.5 1042.9,232.1 1019.6,260.3" stroke-width="1.53" fill="#fff" stroke-linejoin="round"/>
<polygon points="1003.6,251.5 1024.8,226.0 1040.2,233.0 1019.2,258.4" stroke-width="1.06" fill="none"/>
<polygon points="1009.5,247.0 1020.0,234.5 1031.5,239.6 1021.0,252.0" stroke-width="1.3" fill="none"/>
<polygon points="1005.5,251.4 1009.0,247.2 1020.5,252.4 1017.4,256.4" stroke-width="1.18" fill="#000"/>
<circle cx="1023.5" cy="231.2" r="1.3" stroke-width="1.06" fill="none"/>
<circle cx="1028.5" cy="233.6" r="1.1" stroke-width="1.06" fill="none"/>
<circle cx="1035.0" cy="236.4" r="1.3" stroke-width="1.06" fill="none"/>
<circle cx="1031.5" cy="240.5" r="0.8" stroke-width="0.94" fill="#000"/>
<line x1="1020.8" y1="216.4" x2="1020.8" y2="243.5" stroke-width="1.18"/>
<polyline points="1002.4,255.0 1002.9,268.9 1024.5,281.2" stroke-width="1.18" fill="none"/>
<line x1="1018.2" y1="261.0" x2="1018.4" y2="271.5" stroke-width="1.18"/>
<polyline points="1019.6,260.3 1024.0,262.2 1028.0,257.8" stroke-width="1.06" fill="none"/>
<circle cx="1024.6" cy="259.4" r="1.1" stroke-width="1.18" fill="#000"/>
<polygon points="1059.6,224.0 1066.3,216.6 1078.0,223.0 1071.2,230.4" stroke-width="1.18" fill="#fff"/>
<polygon points="1059.6,237.0 1067.0,231.0 1074.9,237.0 1067.5,243.1" stroke-width="1.18" fill="#fff"/>
<polygon points="1056.4,248.0 1063.8,242.4 1073.1,247.6 1065.0,255.4" stroke-width="1.53" fill="#fff"/>
<polygon points="1058.8,248.2 1063.9,244.2 1070.4,247.8 1065.0,252.8" stroke-width="0.94" fill="none"/>
<line x1="1056.4" y1="248.0" x2="1056.4" y2="251.0" stroke-width="1.18"/>
<line x1="1065.0" y1="255.4" x2="1065.0" y2="258.4" stroke-width="1.18"/>
<line x1="1073.1" y1="247.6" x2="1073.1" y2="250.6" stroke-width="1.18"/>
<polyline points="1056.4,251.0 1065.0,258.4 1073.1,250.6" stroke-width="1.18" fill="none"/>
<line x1="1065.0" y1="218.5" x2="1065.0" y2="249.5" stroke-width="1.18"/>
<line x1="1059.4" y1="253.9" x2="1059.4" y2="257.4" stroke-width="1.18"/>
<circle cx="1059.4" cy="257.8" r="0.9" stroke-width="1.06" fill="#000"/>
<line x1="1064.3" y1="258.0" x2="1064.3" y2="261.5" stroke-width="1.18"/>
<circle cx="1064.3" cy="261.9" r="0.9" stroke-width="1.06" fill="#000"/>
<polyline points="1086.0,232.6 1089.2,230.6 1091.0,231.8 1091.0,238.6 1098.8,242.4 1098.8,246.0 1095.0,248.0 1091.4,246.2" stroke-width="1.3" fill="none" stroke-linejoin="round"/>
<line x1="1087.0" y1="234.0" x2="1087.0" y2="238.5" stroke-width="1.06"/>
<polyline points="1087.0,238.5 1094.6,242.4 1098.6,240.6" stroke-width="1.06" fill="none"/>
<circle cx="1092.8" cy="245.2" r="1.5" stroke-width="1.53" fill="none"/>
<circle cx="1089.1" cy="255.4" r="1.4" stroke-width="1.3" fill="none"/>
<line x1="1087.0" y1="254.0" x2="1091.0" y2="256.4" stroke-width="1.89"/>
<line x1="1049.1" y1="239.4" x2="1019.0" y2="264.8" stroke-width="1.18" stroke-dasharray="10 3"/>
<line x1="1049.1" y1="239.4" x2="1055.5" y2="243.0" stroke-width="1.18"/>
<polyline points="1073.5,229.0 1084.7,233.3" stroke-width="1.18" fill="none"/>
<polyline points="1079.8,251.7 1098.2,260.3 1098.2,243.5" stroke-width="1.18" fill="none" stroke-dasharray="9 3"/>
<polyline points="1079.8,251.7 1080.2,263.5 1062.0,278.0" stroke-width="1.18" fill="none" stroke-dasharray="12 3"/>
<polygon points="1030.7,287.3 1050.3,264.0 1056.5,266.6 1058.6,269.4 1060.6,267.2 1066.3,271.4 1066.3,277.0 1056.4,288.0 1055.0,292.5 1046.6,299.6" stroke-width="1.53" fill="#fff" stroke-linejoin="round"/>
<circle cx="1036.0" cy="285.5" r="0.9" stroke-width="1.06" fill="#000"/>
<circle cx="1040.5" cy="288.6" r="0.9" stroke-width="1.06" fill="#000"/>
<circle cx="1045.5" cy="292.0" r="0.9" stroke-width="1.06" fill="#000"/>
<circle cx="1049.8" cy="268.6" r="0.9" stroke-width="1.06" fill="#000"/>
<circle cx="1054.2" cy="270.6" r="0.9" stroke-width="1.06" fill="#000"/>
<circle cx="1051.5" cy="275.0" r="0.9" stroke-width="1.06" fill="#000"/>
<circle cx="1047.5" cy="281.0" r="0.9" stroke-width="1.06" fill="#000"/>
<circle cx="1058.0" cy="276.0" r="0.9" stroke-width="1.06" fill="#000"/>
<circle cx="1043.0" cy="284.0" r="0.9" stroke-width="1.06" fill="#000"/>
<circle cx="1040.0" cy="280.0" r="0.9" stroke-width="1.06" fill="#000"/>
<polyline points="1052.0,266.6 1055.0,267.8 1054.8,271.5 1060.0,273.5" stroke-width="1.18" fill="none"/>
<line x1="1057.0" y1="287.5" x2="1066.3" y2="277.6" stroke-width="2.16"/>
<polygon points="1031.9,324.1 1048.8,304.6 1052.3,301.2 1055.8,304.0 1058.4,305.6 1066.3,309.4 1060.4,316.6 1057.2,315.0 1046.6,332.7" stroke-width="1.53" fill="#fff" stroke-linejoin="round"/>
<polygon points="1042.2,320.0 1047.6,322.6 1049.8,320.2 1044.4,317.6" stroke-width="1.18" fill="none"/>
<circle cx="1036.5" cy="322.5" r="0.9" stroke-width="1.06" fill="#000"/>
<circle cx="1051.0" cy="306.4" r="0.9" stroke-width="1.06" fill="#000"/>
<circle cx="1053.6" cy="311.0" r="0.9" stroke-width="1.06" fill="#000"/>
<circle cx="1060.0" cy="311.4" r="0.9" stroke-width="1.06" fill="#000"/>
<circle cx="1055.0" cy="317.5" r="0.9" stroke-width="1.06" fill="#000"/>
<circle cx="1050.0" cy="313.0" r="0.9" stroke-width="1.06" fill="#000"/>
<polygon points="1054.0,313.0 1058.4,315.2 1056.4,318.8 1052.4,316.6" stroke-width="1.77" fill="none"/>
<line x1="1031.9" y1="324.1" x2="1031.9" y2="330.6" stroke-width="1.18"/>
<circle cx="1031.9" cy="331.0" r="0.9" stroke-width="1.06" fill="#000"/>
<line x1="1046.6" y1="332.7" x2="1046.6" y2="340.7" stroke-width="1.18"/>
<circle cx="1046.6" cy="341.1" r="0.9" stroke-width="1.06" fill="#000"/>
<line x1="1066.3" y1="309.4" x2="1066.3" y2="321.9" stroke-width="1.18"/>
<circle cx="1066.3" cy="322.3" r="0.9" stroke-width="1.06" fill="#000"/>
<line x1="1058.0" y1="318.0" x2="1058.0" y2="326.0" stroke-width="1.18"/>
<circle cx="1058.0" cy="326.4" r="0.9" stroke-width="1.06" fill="#000"/>
<line x1="1052.2" y1="301.2" x2="1052.2" y2="296.7" stroke-width="1.18"/>
<circle cx="1052.2" cy="297.1" r="0.9" stroke-width="1.06" fill="#000"/>
<line x1="1027.7" y1="258.0" x2="1027.7" y2="456.0" stroke-width="1.18" stroke-dasharray="120 3 4 3"/>
<line x1="1031.3" y1="287.5" x2="1031.3" y2="324.0" stroke-width="1.18"/>
<line x1="1062.6" y1="266.4" x2="1128.9" y2="303.3" stroke-width="1.18" stroke-dasharray="16 3 4 3"/>
<polyline points="1067.5,281.2 1105.5,300.8 1047.1,382.8 1073.0,398.5" stroke-width="1.18" fill="none" stroke-dasharray="26 4"/>
<path d="M1130,304.2 Q1148,302 1157.6,287.6" stroke-width="2.81" fill="none"/>
<path d="M1130,304.2 Q1148,302 1157.6,287.6" stroke-width="1.18" fill="none" stroke="#fff"/>
<polygon points="1128.4,302.6 1131.6,304.0 1130.6,306.0 1127.6,304.6" stroke-width="1.06" fill="none"/>
<polygon points="1156.0,286.0 1158.6,285.6 1159.2,288.4 1157.0,289.4" stroke-width="1.06" fill="none"/>
<polyline points="1153.4,284.5 1153.4,262.0 1186.6,281.2 1187.2,465.1 1058.7,539.8 986.6,498.6 985.3,404.6" stroke-width="1.18" fill="none" stroke-dasharray="26 4 4 4"/>
<line x1="984.0" y1="403.4" x2="1027.8" y2="426.5" stroke-width="1.18" stroke-dasharray="14 3 3 3"/>
<line x1="1056.1" y1="419.0" x2="1056.1" y2="519.2" stroke-width="1.18" stroke-dasharray="60 3 4 3"/>
<line x1="986.6" y1="498.6" x2="1054.8" y2="519.2" stroke-width="0.0"/>
<line x1="1003.0" y1="479.5" x2="1054.8" y2="519.2" stroke-width="0.0"/>
<polyline points="1027.5,493.5 1055.5,518.8" stroke-width="0.0" fill="none"/>
<line x1="1004.6" y1="482.0" x2="1054.6" y2="519.0" stroke-width="0.0"/>
<line x1="883.5" y1="419.9" x2="883.5" y2="493.9" stroke-width="1.18" stroke-dasharray="34 3 4 3"/>
<line x1="883.5" y1="419.9" x2="1056.0" y2="519.2" stroke-width="1.18" stroke-dasharray="30 4 4 4"/>
<line x1="944.2" y1="378.9" x2="984.0" y2="400.8" stroke-width="1.18"/>
<line x1="960.9" y1="382.8" x2="985.3" y2="397.4" stroke-width="1.18"/>
<circle cx="943.6" cy="378.6" r="1.0" stroke-width="0.94" fill="#000"/>
<circle cx="960.3" cy="382.4" r="1.0" stroke-width="0.94" fill="#000"/>
<polygon points="967.0,391.2 969.5,389.4 985.0,397.6 983.8,401.4 981.5,402.2 967.4,394.2" stroke-width="1.18" fill="#fff"/>
<line x1="969.5" y1="392.4" x2="968.8" y2="395.2" stroke-width="1.65"/>
<line x1="972.5" y1="394.0" x2="971.8" y2="396.8" stroke-width="1.65"/>
<line x1="975.5" y1="395.6" x2="974.8" y2="398.4" stroke-width="1.65"/>
<line x1="978.5" y1="397.2" x2="977.8" y2="400.0" stroke-width="1.65"/>
<line x1="981.5" y1="398.8" x2="980.8" y2="401.6" stroke-width="1.65"/>
<line x1="971.0" y1="396.6" x2="983.0" y2="403.4" stroke-width="1.65"/>
<polyline points="1074.1,399.5 1093.0,386.0 1096.0,382.0 1124.3,366.0 1126.6,366.6 1127.0,383.0 1138.5,375.6 1139.5,373.6 1151.4,376.3 1152.2,369.4 1156.0,367.2 1170.7,377.6 1172.2,389.4 1166.8,393.1" stroke-width="1.3" fill="none" stroke-linejoin="round"/>
<polyline points="1077.6,400.6 1096.0,388.0 1098.6,384.6 1123.0,370.6 1123.6,385.4 1126.2,386.6 1139.2,378.4 1153.0,380.0 1155.0,371.4 1168.0,380.0 1168.8,388.6 1165.6,390.0" stroke-width="1.18" fill="none" stroke-linejoin="round"/>
<polyline points="1074.1,399.5 1075.0,402.0 1077.6,400.6" stroke-width="1.18" fill="none"/>
<line x1="1166.8" y1="393.1" x2="1165.4" y2="390.0" stroke-width="1.18"/>
<line x1="1093.0" y1="386.0" x2="1096.8" y2="387.6" stroke-width="1.06"/>
<line x1="1139.5" y1="373.6" x2="1138.6" y2="378.0" stroke-width="1.06"/>
<line x1="1124.3" y1="366.0" x2="1123.0" y2="370.6" stroke-width="1.06"/>
<polygon points="1003.4,456.1 1027.8,427.3 1042.0,425.2 1063.8,438.1 1062.5,441.5 1031.7,470.3 1031.5,494.0 1027.8,493.4 1004.6,481.9" stroke-width="1.53" fill="#fff" stroke-linejoin="round"/>
<polygon points="1007.6,455.4 1029.0,430.4 1048.0,435.6 1026.4,462.4" stroke-width="1.89" fill="none" stroke-linejoin="round"/>
<polyline points="1003.4,456.1 1026.5,465.1 1054.8,434.2" stroke-width="1.18" fill="none"/>
<line x1="1026.5" y1="465.1" x2="1027.8" y2="493.4" stroke-width="1.18"/>
<line x1="1004.4" y1="458.5" x2="1026.4" y2="467.5" stroke-width="1.18" stroke-dasharray="3 2"/>
<line x1="1028.4" y1="467.0" x2="1060.0" y2="439.5" stroke-width="2.38" stroke-dasharray="2.4 1.8"/>
<line x1="1005.0" y1="459.0" x2="1005.6" y2="481.0" stroke-width="1.06" stroke-dasharray="3 2"/>
<polyline points="1031.5,483.0 1035.0,481.0 1035.0,487.0 1038.0,488.5 1038.0,492.5 1034.6,494.4 1031.5,494.0" stroke-width="1.18" fill="none"/>
<circle cx="1009.5" cy="454.4" r="1.3" stroke-width="1.18" fill="none"/>
<circle cx="1029.6" cy="431.6" r="1.0" stroke-width="1.06" fill="none"/>
<circle cx="1040.6" cy="427.2" r="1.4" stroke-width="1.42" fill="#000"/>
<circle cx="1054.4" cy="434.4" r="1.4" stroke-width="1.42" fill="#000"/>
<line x1="1041.5" y1="411.9" x2="1041.5" y2="426.0" stroke-width="1.18"/>
<circle cx="1041.5" cy="411.4" r="1.0" stroke-width="1.06" fill="#000"/>
<line x1="1055.6" y1="419.6" x2="1055.6" y2="433.0" stroke-width="1.18"/>
<circle cx="1055.6" cy="419.0" r="1.0" stroke-width="1.06" fill="#000"/>
</svg>
</body></html>
